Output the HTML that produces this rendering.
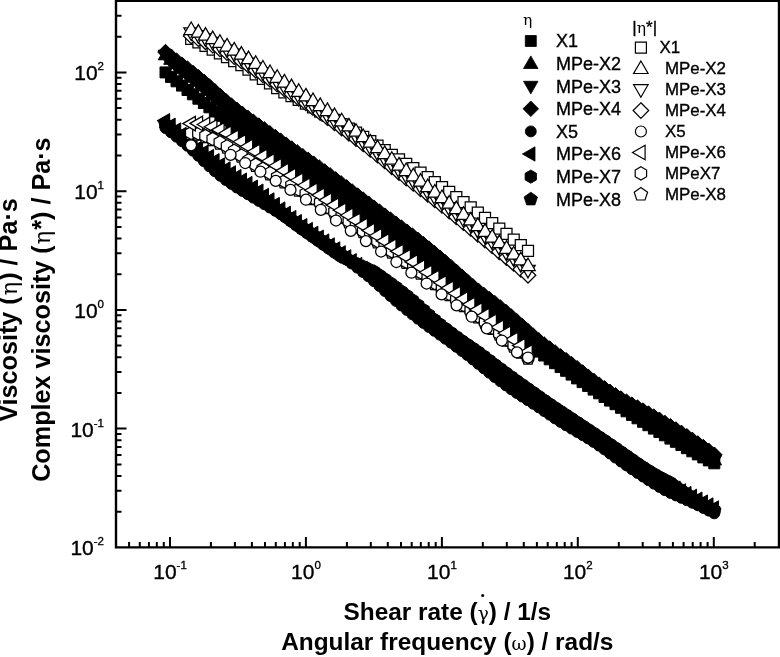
<!DOCTYPE html>
<html><head><meta charset="utf-8"><title>Viscosity plot</title>
<style>html,body{margin:0;padding:0;background:#fff}svg{display:block}</style></head>
<body>
<svg width="780" height="657" viewBox="0 0 780 657">
<rect x="0" y="0" width="780" height="657" fill="#fff"/>
<path d="M160 66.9h11v11h-11zM165.5 71.4h11v11h-11zM171 75.8h11v11h-11zM176.5 80.1h11v11h-11zM182 84.5h11v11h-11zM187.4 88.8h11v11h-11zM192.9 93.2h11v11h-11zM198.4 97.5h11v11h-11zM203.9 101.8h11v11h-11zM209.4 106h11v11h-11zM214.9 110.3h11v11h-11zM220.4 114.5h11v11h-11zM225.9 118.7h11v11h-11zM231.3 123h11v11h-11zM236.8 127.2h11v11h-11zM242.3 131.4h11v11h-11zM247.8 135.6h11v11h-11zM253.3 139.7h11v11h-11zM258.8 143.9h11v11h-11zM264.3 148h11v11h-11zM269.8 152.2h11v11h-11zM275.2 156.3h11v11h-11zM280.7 160.5h11v11h-11zM286.2 164.6h11v11h-11zM291.7 168.7h11v11h-11zM297.2 172.8h11v11h-11zM302.7 176.9h11v11h-11zM308.2 181.1h11v11h-11zM313.7 185.2h11v11h-11zM319.2 189.3h11v11h-11zM324.6 193.3h11v11h-11zM330.1 197.4h11v11h-11zM335.6 201.5h11v11h-11zM341.1 205.6h11v11h-11zM346.6 209.7h11v11h-11zM352.1 213.8h11v11h-11zM357.6 217.8h11v11h-11zM363.1 221.9h11v11h-11zM368.5 226h11v11h-11zM374 230h11v11h-11zM379.5 234.1h11v11h-11zM385 238.2h11v11h-11zM390.5 242.2h11v11h-11zM396 246.3h11v11h-11zM401.5 250.3h11v11h-11zM407 254.4h11v11h-11zM412.4 258.4h11v11h-11zM417.9 262.5h11v11h-11zM423.4 266.5h11v11h-11zM428.9 270.6h11v11h-11zM434.4 274.6h11v11h-11zM439.9 278.6h11v11h-11zM445.4 282.7h11v11h-11zM450.9 286.7h11v11h-11zM456.4 290.7h11v11h-11zM461.8 294.7h11v11h-11zM467.3 298.7h11v11h-11zM472.8 302.7h11v11h-11zM478.3 306.7h11v11h-11zM483.8 310.7h11v11h-11zM489.3 314.6h11v11h-11zM494.8 318.6h11v11h-11zM500.3 322.6h11v11h-11zM505.7 326.5h11v11h-11zM511.2 330.5h11v11h-11zM516.7 334.4h11v11h-11zM522.2 338.3h11v11h-11zM527.7 342.2h11v11h-11zM533.2 346.1h11v11h-11zM538.7 350h11v11h-11zM544.2 353.8h11v11h-11zM549.6 357.7h11v11h-11zM555.1 361.5h11v11h-11zM560.6 365.3h11v11h-11zM566.1 369.1h11v11h-11zM571.6 372.9h11v11h-11zM577.1 376.6h11v11h-11zM582.6 380.4h11v11h-11zM588.1 384.1h11v11h-11zM593.6 387.8h11v11h-11zM599 391.4h11v11h-11zM604.5 395.1h11v11h-11zM610 398.7h11v11h-11zM615.5 402.3h11v11h-11zM621 405.8h11v11h-11zM626.5 409.4h11v11h-11zM632 412.8h11v11h-11zM637.5 416.3h11v11h-11zM642.9 419.7h11v11h-11zM648.4 423.1h11v11h-11zM653.9 426.5h11v11h-11zM659.4 429.8h11v11h-11zM664.9 433.1h11v11h-11zM670.4 436.3h11v11h-11zM675.9 439.5h11v11h-11zM681.4 442.7h11v11h-11zM686.8 445.8h11v11h-11zM692.3 448.9h11v11h-11zM697.8 451.9h11v11h-11zM703.3 454.9h11v11h-11zM708.8 457.8h11v11h-11z" fill="#000" stroke="#000" stroke-width="1"/>
<path d="M165.5 47.2L172.8 59.8L158.2 59.8zM171 51.7L178.2 64.3L163.7 64.3zM176.5 56.1L183.7 68.6L169.2 68.6zM182 60.2L189.2 72.8L174.7 72.8zM187.5 64.4L194.7 77L180.2 77zM192.9 68.7L200.2 81.3L185.7 81.3zM198.4 73.2L205.7 85.8L191.2 85.8zM203.9 77.8L211.2 90.4L196.7 90.4zM209.4 82.6L216.7 95.1L202.2 95.1zM214.9 87.4L222.1 100L207.6 100zM220.4 92.3L227.6 104.8L213.1 104.8zM225.9 97L233.1 109.6L218.6 109.6zM231.4 101.6L238.6 114.1L224.1 114.1zM236.8 105.9L244.1 118.5L229.6 118.5zM242.3 110.1L249.6 122.7L235.1 122.7zM247.8 114.3L255.1 126.8L240.6 126.8zM253.3 118.3L260.6 130.9L246.1 130.9zM258.8 122.4L266 134.9L251.5 134.9zM264.3 126.4L271.5 138.9L257 138.9zM269.8 130.4L277 142.9L262.5 142.9zM275.3 134.4L282.5 147L268 147zM280.7 138.4L288 151L273.5 151zM286.2 142.5L293.5 155L279 155zM291.7 146.5L299 159L284.5 159zM297.2 150.5L304.5 163.1L290 163.1zM302.7 154.5L309.9 167.1L295.4 167.1zM308.2 158.5L315.4 171.1L300.9 171.1zM313.7 162.5L320.9 175.1L306.4 175.1zM319.2 166.6L326.4 179.1L311.9 179.1zM324.7 170.6L331.9 183.2L317.4 183.2zM330.1 174.8L337.4 187.3L322.9 187.3zM335.6 178.9L342.9 191.5L328.4 191.5zM341.1 183.1L348.4 195.6L333.9 195.6zM346.6 187.2L353.9 199.8L339.4 199.8zM352.1 191.4L359.3 204L344.8 204zM357.6 195.6L364.8 208.2L350.3 208.2zM363.1 199.8L370.3 212.4L355.8 212.4zM368.6 204L375.8 216.6L361.3 216.6zM374 208.2L381.3 220.7L366.8 220.7zM379.5 212.3L386.8 224.9L372.3 224.9zM385 216.5L392.3 229L377.8 229zM390.5 220.6L397.8 233.2L383.3 233.2zM396 224.7L403.2 237.3L388.7 237.3zM401.5 228.9L408.7 241.4L394.2 241.4zM407 233L414.2 245.6L399.7 245.6zM412.5 237.2L419.7 249.8L405.2 249.8zM417.9 241.5L425.2 254L410.7 254zM423.4 245.8L430.7 258.3L416.2 258.3zM428.9 250.1L436.2 262.7L421.7 262.7zM434.4 254.6L441.7 267.1L427.2 267.1zM439.9 259.1L447.1 271.6L432.6 271.6zM445.4 263.6L452.6 276.1L438.1 276.1zM450.9 268.1L458.1 280.7L443.6 280.7zM456.4 272.7L463.6 285.3L449.1 285.3zM461.9 277.3L469.1 289.8L454.6 289.8zM467.3 281.8L474.6 294.4L460.1 294.4zM472.8 286.3L480.1 298.8L465.6 298.8zM478.3 290.6L485.6 303.2L471.1 303.2zM483.8 294.9L491.1 307.4L476.6 307.4zM489.3 299L496.5 311.6L482 311.6zM494.8 303.1L502 315.7L487.5 315.7zM500.3 307.3L507.5 319.9L493 319.9zM505.8 311.6L513 324.1L498.5 324.1zM511.2 315.9L518.5 328.5L504 328.5zM516.7 320.4L524 332.9L509.5 332.9zM522.2 324.8L529.5 337.4L515 337.4zM527.7 329.2L535 341.8L520.5 341.8zM533.2 333.6L540.4 346.2L525.9 346.2zM538.7 337.9L545.9 350.5L531.4 350.5zM544.2 342L551.4 354.6L536.9 354.6zM549.7 346.1L556.9 358.6L542.4 358.6zM555.1 350L562.4 362.5L547.9 362.5zM560.6 353.9L567.9 366.4L553.4 366.4zM566.1 357.8L573.4 370.3L558.9 370.3zM571.6 361.7L578.9 374.2L564.4 374.2zM577.1 365.7L584.3 378.2L569.8 378.2zM582.6 369.7L589.8 382.2L575.3 382.2zM588.1 373.6L595.3 386.2L580.8 386.2zM593.6 377.5L600.8 390.1L586.3 390.1zM599.1 381.4L606.3 393.9L591.8 393.9zM604.5 385.1L611.8 397.7L597.3 397.7zM610 388.7L617.3 401.3L602.8 401.3zM615.5 392.3L622.8 404.9L608.3 404.9zM621 395.8L628.3 408.4L613.8 408.4zM626.5 399.3L633.7 411.8L619.2 411.8zM632 402.6L639.2 415.2L624.7 415.2zM637.5 406L644.7 418.5L630.2 418.5zM643 409.3L650.2 421.9L635.7 421.9zM648.4 412.6L655.7 425.2L641.2 425.2zM653.9 416L661.2 428.5L646.7 428.5zM659.4 419.3L666.7 431.9L652.2 431.9zM664.9 422.7L672.2 435.2L657.7 435.2zM670.4 426L677.6 438.6L663.1 438.6zM675.9 429.3L683.1 441.9L668.6 441.9zM681.4 432.6L688.6 445.2L674.1 445.2zM686.9 436L694.1 448.5L679.6 448.5zM692.3 439.3L699.6 451.8L685.1 451.8zM697.8 442.6L705.1 455.1L690.6 455.1zM703.3 445.8L710.6 458.4L696.1 458.4zM708.8 449.1L716.1 461.7L701.6 461.7zM714.3 452.3L721.5 464.9L707 464.9z" fill="#000" stroke="#000" stroke-width="1"/>
<path d="M165.5 62.7L172.8 50.2L158.2 50.2zM171 69.6L178.2 57L163.7 57zM176.5 74.9L183.7 62.4L169.2 62.4zM182 79.6L189.2 67L174.7 67zM187.5 83.8L194.7 71.2L180.2 71.2zM192.9 88.1L200.2 75.5L185.7 75.5zM198.4 92.5L205.7 79.9L191.2 79.9zM203.9 97L211.2 84.5L196.7 84.5zM209.4 101.7L216.7 89.1L202.2 89.1zM214.9 106.4L222.1 93.8L207.6 93.8zM220.4 111.2L227.6 98.6L213.1 98.6zM225.9 115.8L233.1 103.2L218.6 103.2zM231.4 120.3L238.6 107.7L224.1 107.7zM236.8 124.6L244.1 112L229.6 112zM242.3 128.8L249.6 116.2L235.1 116.2zM247.8 132.9L255.1 120.3L240.6 120.3zM253.3 137.4L260.6 124.8L246.1 124.8zM258.8 142.1L266 129.5L251.5 129.5zM264.3 146.8L271.5 134.3L257 134.3zM269.8 151.6L277 139L262.5 139zM275.3 156.4L282.5 143.8L268 143.8zM280.7 161.2L288 148.7L273.5 148.7zM286.2 165.9L293.5 153.3L279 153.3zM291.7 169.9L299 157.3L284.5 157.3zM297.2 173.8L304.5 161.3L290 161.3zM302.7 177.8L309.9 165.3L295.4 165.3zM308.2 181.8L315.4 169.3L300.9 169.3zM313.7 185.8L320.9 173.2L306.4 173.2zM319.2 189.8L326.4 177.2L311.9 177.2zM324.7 193.8L331.9 181.3L317.4 181.3zM330.1 197.8L337.4 185.3L322.9 185.3zM335.6 201.9L342.9 189.3L328.4 189.3zM341.1 205.9L348.4 193.4L333.9 193.4zM346.6 210L353.9 197.4L339.4 197.4zM352.1 214.1L359.3 201.5L344.8 201.5zM357.6 218.1L364.8 205.6L350.3 205.6zM363.1 222.2L370.3 209.7L355.8 209.7zM368.6 226.3L375.8 213.7L361.3 213.7zM374 230.3L381.3 217.8L366.8 217.8zM379.5 234.4L386.8 221.8L372.3 221.8zM385 238.4L392.3 225.9L377.8 225.9zM390.5 242.5L397.8 229.9L383.3 229.9zM396 246.5L403.2 233.9L388.7 233.9zM401.5 250.5L408.7 237.9L394.2 237.9zM407 254.5L414.2 242L399.7 242zM412.5 258.6L419.7 246L405.2 246zM417.9 262.7L425.2 250.1L410.7 250.1zM423.4 266.8L430.7 254.3L416.2 254.3zM428.9 271L436.2 258.4L421.7 258.4zM434.4 275.2L441.7 262.7L427.2 262.7zM439.9 279.5L447.1 266.9L432.6 266.9zM445.4 283.8L452.6 271.2L438.1 271.2zM450.9 288.1L458.1 275.6L443.6 275.6zM456.4 292.5L463.6 279.9L449.1 279.9zM461.9 296.8L469.1 284.2L454.6 284.2zM467.3 301.1L474.6 288.6L460.1 288.6zM472.8 305.4L480.1 292.9L465.6 292.9zM478.3 309.6L485.6 297L471.1 297zM483.8 313.7L491.1 301.1L476.6 301.1zM489.3 317.7L496.5 305.2L482 305.2zM494.8 321.8L502 309.2L487.5 309.2zM500.3 325.8L507.5 313.3L493 313.3zM505.8 330L513 317.4L498.5 317.4zM511.2 334.2L518.5 321.6L504 321.6zM516.7 338.4L524 325.9L509.5 325.9zM522.2 342.7L529.5 330.2L515 330.2zM527.7 347L535 334.4L520.5 334.4zM533.2 351.3L540.4 338.7L525.9 338.7zM538.7 355.4L545.9 342.9L531.4 342.9zM544.2 359.5L551.4 346.9L536.9 346.9zM549.7 363.4L556.9 350.9L542.4 350.9zM555.1 367.3L562.4 354.7L547.9 354.7zM560.6 371.1L567.9 358.6L553.4 358.6zM566.1 374.9L573.4 362.4L558.9 362.4zM571.6 378.8L578.9 366.3L564.4 366.3zM577.1 382.7L584.3 370.2L569.8 370.2zM582.6 386.7L589.8 374.1L575.3 374.1zM588.1 390.6L595.3 378L580.8 378zM593.6 394.4L600.8 381.9L586.3 381.9zM599.1 398.2L606.3 385.6L591.8 385.6zM604.5 401.9L611.8 389.3L597.3 389.3zM610 405.5L617.3 392.9L602.8 392.9zM615.5 409L622.8 396.5L608.3 396.5zM621 412.5L628.3 399.9L613.8 399.9zM626.5 415.9L633.7 403.3L619.2 403.3zM632 419.2L639.2 406.6L624.7 406.6zM637.5 422.4L644.7 409.9L630.2 409.9zM643 425.7L650.2 413.1L635.7 413.1zM648.4 428.9L655.7 416.4L641.2 416.4zM653.9 432.2L661.2 419.7L646.7 419.7zM659.4 435.5L666.7 422.9L652.2 422.9zM664.9 438.8L672.2 426.2L657.7 426.2zM670.4 442L677.6 429.5L663.1 429.5zM675.9 445.3L683.1 432.7L668.6 432.7zM681.4 448.6L688.6 436L674.1 436zM686.9 451.8L694.1 439.3L679.6 439.3zM692.3 455.1L699.6 442.5L685.1 442.5zM697.8 458.4L705.1 445.8L690.6 445.8zM703.3 461.7L710.6 449.1L696.1 449.1zM708.8 465L716.1 452.4L701.6 452.4zM714.3 468.2L721.5 455.7L707 455.7z" fill="#000" stroke="#000" stroke-width="1"/>
<path d="M165.5 44.3L173.3 52.1L165.5 59.9L157.7 52.1zM171 48.8L178.8 56.6L171 64.4L163.2 56.6zM176.5 52.9L184.3 60.7L176.5 68.5L168.7 60.7zM182 56.9L189.8 64.7L182 72.5L174.2 64.7zM187.5 60.9L195.3 68.7L187.5 76.5L179.7 68.7zM192.9 65.1L200.7 72.9L192.9 80.7L185.1 72.9zM198.4 69.5L206.2 77.3L198.4 85.1L190.6 77.3zM203.9 74L211.7 81.8L203.9 89.6L196.1 81.8zM209.4 78.7L217.2 86.5L209.4 94.3L201.6 86.5zM214.9 83.6L222.7 91.4L214.9 99.2L207.1 91.4zM220.4 88.5L228.2 96.3L220.4 104.1L212.6 96.3zM225.9 93.3L233.7 101.1L225.9 108.9L218.1 101.1zM231.4 97.8L239.2 105.6L231.4 113.4L223.6 105.6zM236.8 102L244.6 109.8L236.8 117.6L229 109.8zM242.3 106.1L250.1 113.9L242.3 121.7L234.5 113.9zM247.8 110.1L255.6 117.9L247.8 125.7L240 117.9zM253.3 114L261.1 121.8L253.3 129.6L245.5 121.8zM258.8 117.8L266.6 125.6L258.8 133.4L251 125.6zM264.3 121.6L272.1 129.4L264.3 137.2L256.5 129.4zM269.8 125.5L277.6 133.3L269.8 141.1L262 133.3zM275.3 129.3L283.1 137.1L275.3 144.9L267.5 137.1zM280.7 133.1L288.5 140.9L280.7 148.7L272.9 140.9zM286.2 137L294 144.8L286.2 152.6L278.4 144.8zM291.7 140.8L299.5 148.6L291.7 156.4L283.9 148.6zM297.2 144.6L305 152.4L297.2 160.2L289.4 152.4zM302.7 148.4L310.5 156.2L302.7 164L294.9 156.2zM308.2 152.1L316 159.9L308.2 167.7L300.4 159.9zM313.7 156L321.5 163.8L313.7 171.6L305.9 163.8zM319.2 159.8L327 167.6L319.2 175.4L311.4 167.6zM324.7 163.7L332.5 171.5L324.7 179.3L316.9 171.5zM330.1 167.6L337.9 175.4L330.1 183.2L322.3 175.4zM335.6 171.6L343.4 179.4L335.6 187.2L327.8 179.4zM341.1 175.6L348.9 183.4L341.1 191.2L333.3 183.4zM346.6 179.6L354.4 187.4L346.6 195.2L338.8 187.4zM352.1 183.7L359.9 191.5L352.1 199.3L344.3 191.5zM357.6 187.8L365.4 195.6L357.6 203.4L349.8 195.6zM363.1 191.8L370.9 199.6L363.1 207.4L355.3 199.6zM368.6 195.9L376.4 203.7L368.6 211.5L360.8 203.7zM374 199.9L381.8 207.7L374 215.5L366.2 207.7zM379.5 203.9L387.3 211.7L379.5 219.5L371.7 211.7zM385 207.9L392.8 215.7L385 223.5L377.2 215.7zM390.5 211.9L398.3 219.7L390.5 227.5L382.7 219.7zM396 215.9L403.8 223.7L396 231.5L388.2 223.7zM401.5 219.9L409.3 227.7L401.5 235.5L393.7 227.7zM407 223.9L414.8 231.7L407 239.5L399.2 231.7zM412.5 227.9L420.3 235.7L412.5 243.5L404.7 235.7zM417.9 232.1L425.7 239.9L417.9 247.7L410.1 239.9zM423.4 236.4L431.2 244.2L423.4 252L415.6 244.2zM428.9 240.8L436.7 248.6L428.9 256.4L421.1 248.6zM434.4 245.3L442.2 253.1L434.4 260.9L426.6 253.1zM439.9 249.9L447.7 257.7L439.9 265.5L432.1 257.7zM445.4 254.6L453.2 262.4L445.4 270.2L437.6 262.4zM450.9 259.3L458.7 267.1L450.9 274.9L443.1 267.1zM456.4 264.1L464.2 271.9L456.4 279.7L448.6 271.9zM461.9 269L469.7 276.8L461.9 284.6L454.1 276.8zM467.3 273.8L475.1 281.6L467.3 289.4L459.5 281.6zM472.8 278.5L480.6 286.3L472.8 294.1L465 286.3zM478.3 283L486.1 290.8L478.3 298.6L470.5 290.8zM483.8 287.2L491.6 295L483.8 302.8L476 295zM489.3 291.3L497.1 299.1L489.3 306.9L481.5 299.1zM494.8 295.4L502.6 303.2L494.8 311L487 303.2zM500.3 299.7L508.1 307.5L500.3 315.3L492.5 307.5zM505.8 304.1L513.6 311.9L505.8 319.7L498 311.9zM511.2 308.7L519 316.5L511.2 324.3L503.4 316.5zM516.7 313.4L524.5 321.2L516.7 329L508.9 321.2zM522.2 318.3L530 326.1L522.2 333.9L514.4 326.1zM527.7 323.1L535.5 330.9L527.7 338.7L519.9 330.9zM533.2 327.9L541 335.7L533.2 343.5L525.4 335.7zM538.7 332.5L546.5 340.3L538.7 348.1L530.9 340.3zM544.2 336.8L552 344.6L544.2 352.4L536.4 344.6zM549.7 340.8L557.5 348.6L549.7 356.4L541.9 348.6zM555.1 344.7L562.9 352.5L555.1 360.3L547.3 352.5zM560.6 348.6L568.4 356.4L560.6 364.2L552.8 356.4zM566.1 352.4L573.9 360.2L566.1 368L558.3 360.2zM571.6 356.4L579.4 364.2L571.6 372L563.8 364.2zM577.1 360.5L584.9 368.3L577.1 376.1L569.3 368.3zM582.6 364.7L590.4 372.5L582.6 380.3L574.8 372.5zM588.1 368.9L595.9 376.7L588.1 384.5L580.3 376.7zM593.6 373L601.4 380.8L593.6 388.6L585.8 380.8zM599.1 376.9L606.9 384.7L599.1 392.5L591.3 384.7zM604.5 380.6L612.3 388.4L604.5 396.2L596.7 388.4zM610 384.1L617.8 391.9L610 399.7L602.2 391.9zM615.5 387.5L623.3 395.3L615.5 403.1L607.7 395.3zM621 390.8L628.8 398.6L621 406.4L613.2 398.6zM626.5 393.9L634.3 401.7L626.5 409.5L618.7 401.7zM632 396.9L639.8 404.7L632 412.5L624.2 404.7zM637.5 399.8L645.3 407.6L637.5 415.4L629.7 407.6zM643 402.8L650.8 410.6L643 418.4L635.2 410.6zM648.4 405.8L656.2 413.6L648.4 421.4L640.6 413.6zM653.9 408.8L661.7 416.6L653.9 424.4L646.1 416.6zM659.4 412L667.2 419.8L659.4 427.6L651.6 419.8zM664.9 415.2L672.7 423L664.9 430.8L657.1 423zM670.4 418.4L678.2 426.2L670.4 434L662.6 426.2zM675.9 421.7L683.7 429.5L675.9 437.3L668.1 429.5zM681.4 425.1L689.2 432.9L681.4 440.7L673.6 432.9zM686.9 428.5L694.7 436.3L686.9 444.1L679.1 436.3zM692.3 432.1L700.1 439.9L692.3 447.7L684.5 439.9zM697.8 435.7L705.6 443.5L697.8 451.3L690 443.5zM703.3 439.3L711.1 447.1L703.3 454.9L695.5 447.1zM708.8 443.1L716.6 450.9L708.8 458.7L701 450.9zM714.3 446.9L722.1 454.7L714.3 462.5L706.5 454.7z" fill="#000" stroke="#000" stroke-width="1"/>
<path d="M160 128a5.5 5.5 0 1 0 11.0 0a5.5 5.5 0 1 0 -11.0 0zM165.5 132.3a5.5 5.5 0 1 0 11.0 0a5.5 5.5 0 1 0 -11.0 0zM171 136.7a5.5 5.5 0 1 0 11.0 0a5.5 5.5 0 1 0 -11.0 0zM176.5 141.2a5.5 5.5 0 1 0 11.0 0a5.5 5.5 0 1 0 -11.0 0zM182 145.8a5.5 5.5 0 1 0 11.0 0a5.5 5.5 0 1 0 -11.0 0zM187.4 150.7a5.5 5.5 0 1 0 11.0 0a5.5 5.5 0 1 0 -11.0 0zM192.9 155.8a5.5 5.5 0 1 0 11.0 0a5.5 5.5 0 1 0 -11.0 0zM198.4 161.1a5.5 5.5 0 1 0 11.0 0a5.5 5.5 0 1 0 -11.0 0zM203.9 166.3a5.5 5.5 0 1 0 11.0 0a5.5 5.5 0 1 0 -11.0 0zM209.4 171.2a5.5 5.5 0 1 0 11.0 0a5.5 5.5 0 1 0 -11.0 0zM214.9 175.8a5.5 5.5 0 1 0 11.0 0a5.5 5.5 0 1 0 -11.0 0zM220.4 180a5.5 5.5 0 1 0 11.0 0a5.5 5.5 0 1 0 -11.0 0zM225.9 183.9a5.5 5.5 0 1 0 11.0 0a5.5 5.5 0 1 0 -11.0 0zM231.3 187.5a5.5 5.5 0 1 0 11.0 0a5.5 5.5 0 1 0 -11.0 0zM236.8 190.9a5.5 5.5 0 1 0 11.0 0a5.5 5.5 0 1 0 -11.0 0zM242.3 194.2a5.5 5.5 0 1 0 11.0 0a5.5 5.5 0 1 0 -11.0 0zM247.8 197.6a5.5 5.5 0 1 0 11.0 0a5.5 5.5 0 1 0 -11.0 0zM253.3 200.9a5.5 5.5 0 1 0 11.0 0a5.5 5.5 0 1 0 -11.0 0zM258.8 204.2a5.5 5.5 0 1 0 11.0 0a5.5 5.5 0 1 0 -11.0 0zM264.3 207.5a5.5 5.5 0 1 0 11.0 0a5.5 5.5 0 1 0 -11.0 0zM269.8 210.8a5.5 5.5 0 1 0 11.0 0a5.5 5.5 0 1 0 -11.0 0zM275.2 214.3a5.5 5.5 0 1 0 11.0 0a5.5 5.5 0 1 0 -11.0 0zM280.7 217.9a5.5 5.5 0 1 0 11.0 0a5.5 5.5 0 1 0 -11.0 0zM286.2 221.6a5.5 5.5 0 1 0 11.0 0a5.5 5.5 0 1 0 -11.0 0zM291.7 225.4a5.5 5.5 0 1 0 11.0 0a5.5 5.5 0 1 0 -11.0 0zM297.2 229.2a5.5 5.5 0 1 0 11.0 0a5.5 5.5 0 1 0 -11.0 0zM302.7 232.9a5.5 5.5 0 1 0 11.0 0a5.5 5.5 0 1 0 -11.0 0zM308.2 236.6a5.5 5.5 0 1 0 11.0 0a5.5 5.5 0 1 0 -11.0 0zM313.7 240.3a5.5 5.5 0 1 0 11.0 0a5.5 5.5 0 1 0 -11.0 0zM319.2 244a5.5 5.5 0 1 0 11.0 0a5.5 5.5 0 1 0 -11.0 0zM324.6 247.8a5.5 5.5 0 1 0 11.0 0a5.5 5.5 0 1 0 -11.0 0zM330.1 251.6a5.5 5.5 0 1 0 11.0 0a5.5 5.5 0 1 0 -11.0 0zM335.6 255.5a5.5 5.5 0 1 0 11.0 0a5.5 5.5 0 1 0 -11.0 0zM341.1 259.5a5.5 5.5 0 1 0 11.0 0a5.5 5.5 0 1 0 -11.0 0zM346.6 263.6a5.5 5.5 0 1 0 11.0 0a5.5 5.5 0 1 0 -11.0 0zM352.1 267.7a5.5 5.5 0 1 0 11.0 0a5.5 5.5 0 1 0 -11.0 0zM357.6 272a5.5 5.5 0 1 0 11.0 0a5.5 5.5 0 1 0 -11.0 0zM363.1 276.4a5.5 5.5 0 1 0 11.0 0a5.5 5.5 0 1 0 -11.0 0zM368.5 281.1a5.5 5.5 0 1 0 11.0 0a5.5 5.5 0 1 0 -11.0 0zM374 286a5.5 5.5 0 1 0 11.0 0a5.5 5.5 0 1 0 -11.0 0zM379.5 291a5.5 5.5 0 1 0 11.0 0a5.5 5.5 0 1 0 -11.0 0zM385 296a5.5 5.5 0 1 0 11.0 0a5.5 5.5 0 1 0 -11.0 0zM390.5 300.9a5.5 5.5 0 1 0 11.0 0a5.5 5.5 0 1 0 -11.0 0zM396 305.5a5.5 5.5 0 1 0 11.0 0a5.5 5.5 0 1 0 -11.0 0zM401.5 310a5.5 5.5 0 1 0 11.0 0a5.5 5.5 0 1 0 -11.0 0zM407 314.4a5.5 5.5 0 1 0 11.0 0a5.5 5.5 0 1 0 -11.0 0zM412.4 318.7a5.5 5.5 0 1 0 11.0 0a5.5 5.5 0 1 0 -11.0 0zM417.9 322.9a5.5 5.5 0 1 0 11.0 0a5.5 5.5 0 1 0 -11.0 0zM423.4 326.9a5.5 5.5 0 1 0 11.0 0a5.5 5.5 0 1 0 -11.0 0zM428.9 330.8a5.5 5.5 0 1 0 11.0 0a5.5 5.5 0 1 0 -11.0 0zM434.4 334.7a5.5 5.5 0 1 0 11.0 0a5.5 5.5 0 1 0 -11.0 0zM439.9 338.7a5.5 5.5 0 1 0 11.0 0a5.5 5.5 0 1 0 -11.0 0zM445.4 342.7a5.5 5.5 0 1 0 11.0 0a5.5 5.5 0 1 0 -11.0 0zM450.9 346.8a5.5 5.5 0 1 0 11.0 0a5.5 5.5 0 1 0 -11.0 0zM456.4 350.9a5.5 5.5 0 1 0 11.0 0a5.5 5.5 0 1 0 -11.0 0zM461.8 355a5.5 5.5 0 1 0 11.0 0a5.5 5.5 0 1 0 -11.0 0zM467.3 359.4a5.5 5.5 0 1 0 11.0 0a5.5 5.5 0 1 0 -11.0 0zM472.8 363.8a5.5 5.5 0 1 0 11.0 0a5.5 5.5 0 1 0 -11.0 0zM478.3 368.3a5.5 5.5 0 1 0 11.0 0a5.5 5.5 0 1 0 -11.0 0zM483.8 372.7a5.5 5.5 0 1 0 11.0 0a5.5 5.5 0 1 0 -11.0 0zM489.3 377a5.5 5.5 0 1 0 11.0 0a5.5 5.5 0 1 0 -11.0 0zM494.8 381.2a5.5 5.5 0 1 0 11.0 0a5.5 5.5 0 1 0 -11.0 0zM500.3 385.3a5.5 5.5 0 1 0 11.0 0a5.5 5.5 0 1 0 -11.0 0zM505.7 389.2a5.5 5.5 0 1 0 11.0 0a5.5 5.5 0 1 0 -11.0 0zM511.2 392.9a5.5 5.5 0 1 0 11.0 0a5.5 5.5 0 1 0 -11.0 0zM516.7 396.5a5.5 5.5 0 1 0 11.0 0a5.5 5.5 0 1 0 -11.0 0zM522.2 400.1a5.5 5.5 0 1 0 11.0 0a5.5 5.5 0 1 0 -11.0 0zM527.7 403.7a5.5 5.5 0 1 0 11.0 0a5.5 5.5 0 1 0 -11.0 0zM533.2 407.3a5.5 5.5 0 1 0 11.0 0a5.5 5.5 0 1 0 -11.0 0zM538.7 411a5.5 5.5 0 1 0 11.0 0a5.5 5.5 0 1 0 -11.0 0zM544.2 414.7a5.5 5.5 0 1 0 11.0 0a5.5 5.5 0 1 0 -11.0 0zM549.6 418.4a5.5 5.5 0 1 0 11.0 0a5.5 5.5 0 1 0 -11.0 0zM555.1 421.9a5.5 5.5 0 1 0 11.0 0a5.5 5.5 0 1 0 -11.0 0zM560.6 425.3a5.5 5.5 0 1 0 11.0 0a5.5 5.5 0 1 0 -11.0 0zM566.1 428.6a5.5 5.5 0 1 0 11.0 0a5.5 5.5 0 1 0 -11.0 0zM571.6 431.9a5.5 5.5 0 1 0 11.0 0a5.5 5.5 0 1 0 -11.0 0zM577.1 435.1a5.5 5.5 0 1 0 11.0 0a5.5 5.5 0 1 0 -11.0 0zM582.6 438.4a5.5 5.5 0 1 0 11.0 0a5.5 5.5 0 1 0 -11.0 0zM588.1 441.9a5.5 5.5 0 1 0 11.0 0a5.5 5.5 0 1 0 -11.0 0zM593.6 445.6a5.5 5.5 0 1 0 11.0 0a5.5 5.5 0 1 0 -11.0 0zM599 449.4a5.5 5.5 0 1 0 11.0 0a5.5 5.5 0 1 0 -11.0 0zM604.5 453.5a5.5 5.5 0 1 0 11.0 0a5.5 5.5 0 1 0 -11.0 0zM610 457.5a5.5 5.5 0 1 0 11.0 0a5.5 5.5 0 1 0 -11.0 0zM615.5 461.5a5.5 5.5 0 1 0 11.0 0a5.5 5.5 0 1 0 -11.0 0zM621 465.4a5.5 5.5 0 1 0 11.0 0a5.5 5.5 0 1 0 -11.0 0zM626.5 469.2a5.5 5.5 0 1 0 11.0 0a5.5 5.5 0 1 0 -11.0 0zM632 472.9a5.5 5.5 0 1 0 11.0 0a5.5 5.5 0 1 0 -11.0 0zM637.5 476.5a5.5 5.5 0 1 0 11.0 0a5.5 5.5 0 1 0 -11.0 0zM642.9 480.1a5.5 5.5 0 1 0 11.0 0a5.5 5.5 0 1 0 -11.0 0zM648.4 483.6a5.5 5.5 0 1 0 11.0 0a5.5 5.5 0 1 0 -11.0 0zM653.9 486.9a5.5 5.5 0 1 0 11.0 0a5.5 5.5 0 1 0 -11.0 0zM659.4 490.1a5.5 5.5 0 1 0 11.0 0a5.5 5.5 0 1 0 -11.0 0zM664.9 492.9a5.5 5.5 0 1 0 11.0 0a5.5 5.5 0 1 0 -11.0 0zM670.4 495.4a5.5 5.5 0 1 0 11.0 0a5.5 5.5 0 1 0 -11.0 0zM675.9 497.8a5.5 5.5 0 1 0 11.0 0a5.5 5.5 0 1 0 -11.0 0zM681.4 500.2a5.5 5.5 0 1 0 11.0 0a5.5 5.5 0 1 0 -11.0 0zM686.8 502.7a5.5 5.5 0 1 0 11.0 0a5.5 5.5 0 1 0 -11.0 0zM692.3 505.2a5.5 5.5 0 1 0 11.0 0a5.5 5.5 0 1 0 -11.0 0zM697.8 507.9a5.5 5.5 0 1 0 11.0 0a5.5 5.5 0 1 0 -11.0 0zM703.3 510.6a5.5 5.5 0 1 0 11.0 0a5.5 5.5 0 1 0 -11.0 0zM708.8 513.3a5.5 5.5 0 1 0 11.0 0a5.5 5.5 0 1 0 -11.0 0z" fill="#000" stroke="#000" stroke-width="1"/>
<path d="M165.5 117.3L172.2 122.2L169.6 130L161.4 130L158.8 122.2zM171 121.8L177.6 126.7L175.1 134.5L166.9 134.5L164.3 126.7zM176.5 126.3L183.1 131.2L180.6 139L172.4 139L169.8 131.2zM182 130.9L188.6 135.7L186.1 143.5L177.8 143.5L175.3 135.7zM187.5 135.5L194.1 140.3L191.6 148.1L183.3 148.1L180.8 140.3zM192.9 140.1L199.6 145L197.1 152.8L188.8 152.8L186.3 145zM198.4 144.9L205.1 149.7L202.5 157.6L194.3 157.6L191.8 149.7zM203.9 149.7L210.6 154.5L208 162.4L199.8 162.4L197.3 154.5zM209.4 154.4L216.1 159.3L213.5 167.1L205.3 167.1L202.7 159.3zM214.9 159L221.5 163.9L219 171.7L210.8 171.7L208.2 163.9zM220.4 163.4L227 168.2L224.5 176.1L216.3 176.1L213.7 168.2zM225.9 167.6L232.5 172.4L230 180.2L221.8 180.2L219.2 172.4zM231.4 171.5L238 176.3L235.5 184.1L227.2 184.1L224.7 176.3zM236.8 175.1L243.5 179.9L241 187.8L232.7 187.8L230.2 179.9zM242.3 178.5L249 183.4L246.4 191.2L238.2 191.2L235.7 183.4zM247.8 181.9L254.5 186.8L251.9 194.6L243.7 194.6L241.2 186.8zM253.3 185.4L260 190.3L257.4 198.1L249.2 198.1L246.7 190.3zM258.8 189.1L265.5 193.9L262.9 201.7L254.7 201.7L252.1 193.9zM264.3 192.9L270.9 197.7L268.4 205.5L260.2 205.5L257.6 197.7zM269.8 196.8L276.4 201.6L273.9 209.4L265.7 209.4L263.1 201.6zM275.3 200.7L281.9 205.5L279.4 213.4L271.1 213.4L268.6 205.5zM280.7 204.7L287.4 209.5L284.9 217.4L276.6 217.4L274.1 209.5zM286.2 208.7L292.9 213.5L290.4 221.3L282.1 221.3L279.6 213.5zM291.7 212.6L298.4 217.5L295.8 225.3L287.6 225.3L285.1 217.5zM297.2 216.6L303.9 221.4L301.3 229.2L293.1 229.2L290.6 221.4zM302.7 220.4L309.4 225.3L306.8 233.1L298.6 233.1L296 225.3zM308.2 224.3L314.8 229.1L312.3 236.9L304.1 236.9L301.5 229.1zM313.7 228.1L320.3 232.9L317.8 240.7L309.6 240.7L307 232.9zM319.2 231.8L325.8 236.7L323.3 244.5L315 244.5L312.5 236.7zM324.7 235.6L331.3 240.4L328.8 248.3L320.5 248.3L318 240.4zM330.1 239.4L336.8 244.3L334.3 252.1L326 252.1L323.5 244.3zM335.6 243.3L342.3 248.2L339.7 256L331.5 256L329 248.2zM341.1 247.2L347.8 252.1L345.2 259.9L337 259.9L334.5 252.1zM346.6 251.2L353.3 256L350.7 263.9L342.5 263.9L339.9 256zM352.1 255.2L358.7 260L356.2 267.8L348 267.8L345.4 260zM357.6 259.2L364.2 264L361.7 271.8L353.5 271.8L350.9 264zM363.1 263.2L369.7 268.1L367.2 275.9L359 275.9L356.4 268.1zM368.6 267.3L375.2 272.2L372.7 280L364.4 280L361.9 272.2zM374 271.6L380.7 276.5L378.2 284.3L369.9 284.3L367.4 276.5zM379.5 276.1L386.2 280.9L383.6 288.7L375.4 288.7L372.9 280.9zM385 280.5L391.7 285.4L389.1 293.2L380.9 293.2L378.4 285.4zM390.5 285L397.2 289.9L394.6 297.7L386.4 297.7L383.9 289.9zM396 289.5L402.7 294.3L400.1 302.2L391.9 302.2L389.3 294.3zM401.5 293.9L408.1 298.7L405.6 306.6L397.4 306.6L394.8 298.7zM407 298.3L413.6 303.1L411.1 310.9L402.9 310.9L400.3 303.1zM412.5 302.7L419.1 307.5L416.6 315.3L408.3 315.3L405.8 307.5zM417.9 307.1L424.6 311.9L422.1 319.7L413.8 319.7L411.3 311.9zM423.4 311.5L430.1 316.3L427.6 324.1L419.3 324.1L416.8 316.3zM428.9 315.8L435.6 320.6L433 328.4L424.8 328.4L422.3 320.6zM434.4 320L441.1 324.8L438.5 332.6L430.3 332.6L427.8 324.8zM439.9 324L446.6 328.9L444 336.7L435.8 336.7L433.2 328.9zM445.4 328L452 332.9L449.5 340.7L441.3 340.7L438.7 332.9zM450.9 332.1L457.5 336.9L455 344.8L446.8 344.8L444.2 336.9zM456.4 336.2L463 341L460.5 348.8L452.2 348.8L449.7 341zM461.9 340.2L468.5 345.1L466 352.9L457.7 352.9L455.2 345.1zM467.3 344.2L474 349.1L471.5 356.9L463.2 356.9L460.7 349.1zM472.8 348.2L479.5 353.1L476.9 360.9L468.7 360.9L466.2 353.1zM478.3 352.4L485 357.2L482.4 365L474.2 365L471.7 357.2zM483.8 356.6L490.5 361.5L487.9 369.3L479.7 369.3L477.1 361.5zM489.3 361L495.9 365.8L493.4 373.6L485.2 373.6L482.6 365.8zM494.8 365.2L501.4 370L498.9 377.9L490.7 377.9L488.1 370zM500.3 369.4L506.9 374.2L504.4 382L496.2 382L493.6 374.2zM505.8 373.5L512.4 378.3L509.9 386.1L501.6 386.1L499.1 378.3zM511.2 377.4L517.9 382.3L515.4 390.1L507.1 390.1L504.6 382.3zM516.7 381.3L523.4 386.1L520.8 393.9L512.6 393.9L510.1 386.1zM522.2 385L528.9 389.8L526.3 397.7L518.1 397.7L515.6 389.8zM527.7 388.8L534.4 393.6L531.8 401.4L523.6 401.4L521.1 393.6zM533.2 392.5L539.9 397.3L537.3 405.2L529.1 405.2L526.5 397.3zM538.7 396.3L545.3 401.1L542.8 408.9L534.6 408.9L532 401.1zM544.2 400.1L550.8 404.9L548.3 412.7L540.1 412.7L537.5 404.9zM549.7 403.8L556.3 408.6L553.8 416.5L545.5 416.5L543 408.6zM555.1 407.5L561.8 412.3L559.3 420.1L551 420.1L548.5 412.3zM560.6 411L567.3 415.9L564.8 423.7L556.5 423.7L554 415.9zM566.1 414.6L572.8 419.4L570.2 427.2L562 427.2L559.5 419.4zM571.6 418L578.3 422.9L575.7 430.7L567.5 430.7L565 422.9zM577.1 421.5L583.8 426.3L581.2 434.1L573 434.1L570.4 426.3zM582.6 424.9L589.2 429.8L586.7 437.6L578.5 437.6L575.9 429.8zM588.1 428.4L594.7 433.2L592.2 441.1L584 441.1L581.4 433.2zM593.6 432L600.2 436.8L597.7 444.6L589.4 444.6L586.9 436.8zM599.1 435.6L605.7 440.5L603.2 448.3L594.9 448.3L592.4 440.5zM604.5 439.4L611.2 444.2L608.7 452.1L600.4 452.1L597.9 444.2zM610 443.3L616.7 448.1L614.1 455.9L605.9 455.9L603.4 448.1zM615.5 447.2L622.2 452L619.6 459.9L611.4 459.9L608.9 452zM621 451.1L627.7 455.9L625.1 463.8L616.9 463.8L614.3 455.9zM626.5 455L633.1 459.8L630.6 467.6L622.4 467.6L619.8 459.8zM632 458.8L638.6 463.6L636.1 471.5L627.9 471.5L625.3 463.6zM637.5 462.5L644.1 467.4L641.6 475.2L633.4 475.2L630.8 467.4zM643 466.2L649.6 471L647.1 478.9L638.8 478.9L636.3 471zM648.4 469.7L655.1 474.6L652.6 482.4L644.3 482.4L641.8 474.6zM653.9 473.1L660.6 478L658 485.8L649.8 485.8L647.3 478zM659.4 476.4L666.1 481.2L663.5 489L655.3 489L652.8 481.2zM664.9 479.4L671.6 484.2L669 492L660.8 492L658.3 484.2zM670.4 482.2L677.1 487L674.5 494.8L666.3 494.8L663.7 487zM675.9 484.8L682.5 489.6L680 497.5L671.8 497.5L669.2 489.6zM681.4 487.4L688 492.2L685.5 500L677.3 500L674.7 492.2zM686.9 489.9L693.5 494.8L691 502.6L682.7 502.6L680.2 494.8zM692.3 492.5L699 497.4L696.5 505.2L688.2 505.2L685.7 497.4zM697.8 495.2L704.5 500.1L702 507.9L693.7 507.9L691.2 500.1zM703.3 498L710 502.8L707.4 510.7L699.2 510.7L696.7 502.8zM708.8 500.8L715.5 505.6L712.9 513.5L704.7 513.5L702.2 505.6zM714.3 503.7L721 508.5L718.4 516.3L710.2 516.3L707.6 508.5z" fill="#000" stroke="#000" stroke-width="1"/>
<path d="M165.5 118.1L171.2 121.4L171.2 128L165.5 131.3L159.8 128L159.8 121.4zM171 122.8L176.7 126.1L176.7 132.7L171 136L165.3 132.7L165.3 126.1zM176.5 127.4L182.2 130.7L182.2 137.3L176.5 140.6L170.8 137.3L170.8 130.7zM182 132L187.7 135.3L187.7 141.9L182 145.2L176.2 141.9L176.2 135.3zM187.5 136.5L193.2 139.8L193.2 146.4L187.5 149.7L181.7 146.4L181.7 139.8zM192.9 141L198.7 144.3L198.7 150.9L192.9 154.2L187.2 150.9L187.2 144.3zM198.4 145.4L204.1 148.7L204.1 155.3L198.4 158.6L192.7 155.3L192.7 148.7zM203.9 149.7L209.6 153L209.6 159.6L203.9 162.9L198.2 159.6L198.2 153zM209.4 154L215.1 157.3L215.1 163.9L209.4 167.2L203.7 163.9L203.7 157.3zM214.9 158.3L220.6 161.6L220.6 168.2L214.9 171.5L209.2 168.2L209.2 161.6zM220.4 162.4L226.1 165.7L226.1 172.3L220.4 175.6L214.7 172.3L214.7 165.7zM225.9 166.5L231.6 169.8L231.6 176.4L225.9 179.7L220.2 176.4L220.2 169.8zM231.4 170.4L237.1 173.7L237.1 180.3L231.4 183.6L225.6 180.3L225.6 173.7zM236.8 174.1L242.6 177.4L242.6 184L236.8 187.3L231.1 184L231.1 177.4zM242.3 177.6L248 180.9L248 187.5L242.3 190.8L236.6 187.5L236.6 180.9zM247.8 181.1L253.5 184.4L253.5 191L247.8 194.3L242.1 191L242.1 184.4zM253.3 184.7L259 188L259 194.6L253.3 197.9L247.6 194.6L247.6 188zM258.8 188.6L264.5 191.9L264.5 198.5L258.8 201.8L253.1 198.5L253.1 191.9zM264.3 192.9L270 196.2L270 202.8L264.3 206.1L258.6 202.8L258.6 196.2zM269.8 197.4L275.5 200.7L275.5 207.3L269.8 210.6L264.1 207.3L264.1 200.7zM275.3 202L281 205.3L281 211.9L275.3 215.2L269.5 211.9L269.5 205.3zM280.7 206.5L286.5 209.8L286.5 216.4L280.7 219.7L275 216.4L275 209.8zM286.2 210.8L292 214.1L292 220.7L286.2 224L280.5 220.7L280.5 214.1zM291.7 215L297.4 218.3L297.4 224.9L291.7 228.2L286 224.9L286 218.3zM297.2 219.1L302.9 222.4L302.9 229L297.2 232.3L291.5 229L291.5 222.4zM302.7 223.1L308.4 226.4L308.4 233L302.7 236.3L297 233L297 226.4zM308.2 227L313.9 230.3L313.9 236.9L308.2 240.2L302.5 236.9L302.5 230.3zM313.7 230.9L319.4 234.2L319.4 240.8L313.7 244.1L308 240.8L308 234.2zM319.2 234.7L324.9 238L324.9 244.6L319.2 247.9L313.4 244.6L313.4 238zM324.7 238.6L330.4 241.9L330.4 248.5L324.7 251.8L318.9 248.5L318.9 241.9zM330.1 242.5L335.9 245.8L335.9 252.4L330.1 255.7L324.4 252.4L324.4 245.8zM335.6 246.4L341.3 249.7L341.3 256.3L335.6 259.6L329.9 256.3L329.9 249.7zM341.1 250.1L346.8 253.4L346.8 260L341.1 263.3L335.4 260L335.4 253.4zM346.6 252.6L352.3 255.9L352.3 262.5L346.6 265.8L340.9 262.5L340.9 255.9zM352.1 255.1L357.8 258.4L357.8 265L352.1 268.3L346.4 265L346.4 258.4zM357.6 257.5L363.3 260.8L363.3 267.4L357.6 270.7L351.9 267.4L351.9 260.8zM363.1 259.9L368.8 263.2L368.8 269.8L363.1 273.1L357.4 269.8L357.4 263.2zM368.6 262.4L374.3 265.7L374.3 272.3L368.6 275.6L362.8 272.3L362.8 265.7zM374 264.8L379.8 268.1L379.8 274.7L374 278L368.3 274.7L368.3 268.1zM379.5 268.5L385.2 271.8L385.2 278.4L379.5 281.7L373.8 278.4L373.8 271.8zM385 272.4L390.7 275.7L390.7 282.3L385 285.6L379.3 282.3L379.3 275.7zM390.5 276.4L396.2 279.7L396.2 286.3L390.5 289.6L384.8 286.3L384.8 279.7zM396 280.4L401.7 283.7L401.7 290.3L396 293.6L390.3 290.3L390.3 283.7zM401.5 284.7L407.2 288L407.2 294.6L401.5 297.9L395.8 294.6L395.8 288zM407 289L412.7 292.3L412.7 298.9L407 302.2L401.3 298.9L401.3 292.3zM412.5 293.5L418.2 296.8L418.2 303.4L412.5 306.7L406.7 303.4L406.7 296.8zM417.9 298.3L423.7 301.6L423.7 308.2L417.9 311.5L412.2 308.2L412.2 301.6zM423.4 303.2L429.2 306.5L429.2 313.1L423.4 316.4L417.7 313.1L417.7 306.5zM428.9 308.1L434.6 311.4L434.6 318L428.9 321.3L423.2 318L423.2 311.4zM434.4 312.9L440.1 316.2L440.1 322.8L434.4 326.1L428.7 322.8L428.7 316.2zM439.9 317.5L445.6 320.8L445.6 327.4L439.9 330.7L434.2 327.4L434.2 320.8zM445.4 321.8L451.1 325.1L451.1 331.7L445.4 335L439.7 331.7L439.7 325.1zM450.9 325.9L456.6 329.2L456.6 335.8L450.9 339.1L445.2 335.8L445.2 329.2zM456.4 330L462.1 333.3L462.1 339.9L456.4 343.2L450.6 339.9L450.6 333.3zM461.9 334L467.6 337.3L467.6 343.9L461.9 347.2L456.1 343.9L456.1 337.3zM467.3 337.8L473.1 341.1L473.1 347.7L467.3 351L461.6 347.7L461.6 341.1zM472.8 341.5L478.5 344.8L478.5 351.4L472.8 354.7L467.1 351.4L467.1 344.8zM478.3 345.3L484 348.6L484 355.2L478.3 358.5L472.6 355.2L472.6 348.6zM483.8 349.4L489.5 352.7L489.5 359.3L483.8 362.6L478.1 359.3L478.1 352.7zM489.3 353.6L495 356.9L495 363.5L489.3 366.8L483.6 363.5L483.6 356.9zM494.8 357.8L500.5 361.1L500.5 367.7L494.8 371L489.1 367.7L489.1 361.1zM500.3 361.9L506 365.2L506 371.8L500.3 375.1L494.6 371.8L494.6 365.2zM505.8 366L511.5 369.3L511.5 375.9L505.8 379.2L500 375.9L500 369.3zM511.2 370L517 373.3L517 379.9L511.2 383.2L505.5 379.9L505.5 373.3zM516.7 374L522.4 377.3L522.4 383.9L516.7 387.2L511 383.9L511 377.3zM522.2 377.9L527.9 381.2L527.9 387.8L522.2 391.1L516.5 387.8L516.5 381.2zM527.7 381.8L533.4 385.1L533.4 391.7L527.7 395L522 391.7L522 385.1zM533.2 385.7L538.9 389L538.9 395.6L533.2 398.9L527.5 395.6L527.5 389zM538.7 389.6L544.4 392.9L544.4 399.5L538.7 402.8L533 399.5L533 392.9zM544.2 393.5L549.9 396.8L549.9 403.4L544.2 406.7L538.5 403.4L538.5 396.8zM549.7 397.3L555.4 400.6L555.4 407.2L549.7 410.5L543.9 407.2L543.9 400.6zM555.1 401L560.9 404.3L560.9 410.9L555.1 414.2L549.4 410.9L549.4 404.3zM560.6 404.6L566.4 407.9L566.4 414.5L560.6 417.8L554.9 414.5L554.9 407.9zM566.1 408.2L571.8 411.5L571.8 418.1L566.1 421.4L560.4 418.1L560.4 411.5zM571.6 411.8L577.3 415.1L577.3 421.7L571.6 425L565.9 421.7L565.9 415.1zM577.1 415.5L582.8 418.8L582.8 425.4L577.1 428.7L571.4 425.4L571.4 418.8zM582.6 419.1L588.3 422.4L588.3 429L582.6 432.3L576.9 429L576.9 422.4zM588.1 422.8L593.8 426.1L593.8 432.7L588.1 436L582.4 432.7L582.4 426.1zM593.6 426.4L599.3 429.7L599.3 436.3L593.6 439.6L587.8 436.3L587.8 429.7zM599.1 430.1L604.8 433.4L604.8 440L599.1 443.3L593.3 440L593.3 433.4zM604.5 433.7L610.3 437L610.3 443.6L604.5 446.9L598.8 443.6L598.8 437zM610 437.5L615.7 440.8L615.7 447.4L610 450.7L604.3 447.4L604.3 440.8zM615.5 441.2L621.2 444.5L621.2 451.1L615.5 454.4L609.8 451.1L609.8 444.5zM621 445.1L626.7 448.4L626.7 455L621 458.3L615.3 455L615.3 448.4zM626.5 448.9L632.2 452.2L632.2 458.8L626.5 462.1L620.8 458.8L620.8 452.2zM632 452.8L637.7 456.1L637.7 462.7L632 466L626.3 462.7L626.3 456.1zM637.5 456.6L643.2 459.9L643.2 466.5L637.5 469.8L631.8 466.5L631.8 459.9zM643 460.3L648.7 463.6L648.7 470.2L643 473.5L637.2 470.2L637.2 463.6zM648.4 463.8L654.2 467.1L654.2 473.7L648.4 477L642.7 473.7L642.7 467.1zM653.9 467.1L659.6 470.4L659.6 477L653.9 480.3L648.2 477L648.2 470.4zM659.4 470.2L665.1 473.5L665.1 480.1L659.4 483.4L653.7 480.1L653.7 473.5zM664.9 473.1L670.6 476.4L670.6 483L664.9 486.3L659.2 483L659.2 476.4zM670.4 475.9L676.1 479.2L676.1 485.8L670.4 489.1L664.7 485.8L664.7 479.2zM675.9 479.8L681.6 483.1L681.6 489.7L675.9 493L670.2 489.7L670.2 483.1zM681.4 483.6L687.1 486.9L687.1 493.5L681.4 496.8L675.7 493.5L675.7 486.9zM686.9 487.4L692.6 490.7L692.6 497.3L686.9 500.6L681.1 497.3L681.1 490.7zM692.3 491.3L698.1 494.6L698.1 501.2L692.3 504.5L686.6 501.2L686.6 494.6zM697.8 494.6L703.6 497.9L703.6 504.5L697.8 507.8L692.1 504.5L692.1 497.9zM703.3 497.5L709 500.8L709 507.4L703.3 510.7L697.6 507.4L697.6 500.8zM708.8 500.5L714.5 503.8L714.5 510.4L708.8 513.7L703.1 510.4L703.1 503.8zM714.3 503.4L720 506.7L720 513.3L714.3 516.6L708.6 513.3L708.6 506.7z" fill="#000" stroke="#000" stroke-width="1"/>
<path d="M157.1 120.7L169.7 113.5L169.7 128zM162.6 125.4L175.2 118.1L175.2 132.6zM168.1 130L180.7 122.8L180.7 137.3zM173.6 134.6L186.2 127.3L186.2 141.8zM179.1 139.1L191.6 131.9L191.6 146.4zM184.6 143.6L197.1 136.3L197.1 150.8zM190.1 148L202.6 140.7L202.6 155.2zM195.5 152.3L208.1 145.1L208.1 159.6zM201 156.6L213.6 149.4L213.6 163.9zM206.5 160.9L219.1 153.6L219.1 168.1zM212 165L224.6 157.8L224.6 172.3zM217.5 169.1L230.1 161.8L230.1 176.3zM223 173L235.5 165.7L235.5 180.2zM228.5 176.7L241 169.4L241 183.9zM234 180.2L246.5 173L246.5 187.5zM239.4 183.7L252 176.4L252 190.9zM244.9 187.3L257.5 180L257.5 194.5zM250.4 191.2L263 184L263 198.5zM255.9 195.5L268.5 188.3L268.5 202.8zM261.4 200L274 192.8L274 207.3zM266.9 204.6L279.4 197.4L279.4 211.9zM272.4 209.1L284.9 201.9L284.9 216.4zM277.9 213.4L290.4 206.2L290.4 220.7zM283.4 217.6L295.9 210.4L295.9 224.9zM288.8 221.7L301.4 214.5L301.4 229zM294.3 225.7L306.9 218.5L306.9 233zM299.8 229.6L312.4 222.4L312.4 236.9zM305.3 233.5L317.9 226.2L317.9 240.7zM310.8 237.3L323.4 230.1L323.4 244.6zM316.3 241.2L328.8 233.9L328.8 248.4zM321.8 245.1L334.3 237.8L334.3 252.3zM327.3 249L339.8 241.8L339.8 256.3zM332.7 253L345.3 245.7L345.3 260.2zM338.2 256.9L350.8 249.7L350.8 264.2zM343.7 260.8L356.3 253.6L356.3 268.1zM349.2 264.7L361.8 257.4L361.8 271.9zM354.7 268.5L367.3 261.2L367.3 275.7zM360.2 272.3L372.7 265.1L372.7 279.6zM365.7 276.2L378.2 268.9L378.2 283.4zM371.2 280.1L383.7 272.8L383.7 287.3zM376.6 284L389.2 276.8L389.2 291.3zM382.1 288L394.7 280.7L394.7 295.2zM387.6 292L400.2 284.8L400.2 299.3zM393.1 296.3L405.7 289L405.7 303.5zM398.6 300.6L411.2 293.3L411.2 307.8zM404.1 305L416.6 297.7L416.6 312.2zM409.6 309.5L422.1 302.2L422.1 316.7zM415.1 314L427.6 306.8L427.6 321.3zM420.6 318.6L433.1 311.4L433.1 325.9zM426 323.1L438.6 315.9L438.6 330.4zM431.5 327.3L444.1 320.1L444.1 334.6zM437 331.4L449.6 324.2L449.6 338.7zM442.5 335.5L455.1 328.3L455.1 342.8zM448 339.6L460.6 332.3L460.6 346.8zM453.5 343.6L466 336.3L466 350.8zM459 347.4L471.5 340.1L471.5 354.6zM464.5 351.1L477 343.9L477 358.4zM469.9 354.9L482.5 347.7L482.5 362.2zM475.4 359L488 351.7L488 366.2zM480.9 363.2L493.5 355.9L493.5 370.4zM486.4 367.4L499 360.1L499 374.6zM491.9 371.5L504.5 364.3L504.5 378.8zM497.4 375.6L509.9 368.4L509.9 382.9zM502.9 379.6L515.4 372.4L515.4 386.9zM508.4 383.6L520.9 376.3L520.9 390.8zM513.9 387.5L526.4 380.2L526.4 394.7zM519.3 391.4L531.9 384.1L531.9 398.6zM524.8 395.3L537.4 388.1L537.4 402.6zM530.3 399.2L542.9 392L542.9 406.5zM535.8 403.1L548.4 395.9L548.4 410.4zM541.3 406.9L553.9 399.7L553.9 414.2zM546.8 410.6L559.3 403.3L559.3 417.8zM552.3 414.2L564.8 406.9L564.8 421.4zM557.8 417.8L570.3 410.5L570.3 425zM563.2 421.4L575.8 414.2L575.8 428.7zM568.7 425.1L581.3 417.8L581.3 432.3zM574.2 428.7L586.8 421.5L586.8 436zM579.7 432.4L592.3 425.1L592.3 439.6zM585.2 436L597.8 428.8L597.8 443.3zM590.7 439.7L603.2 432.4L603.2 446.9zM596.2 443.3L608.7 436.1L608.7 450.6zM601.7 447.1L614.2 439.8L614.2 454.3zM607.1 450.8L619.7 443.6L619.7 458.1zM612.6 454.7L625.2 447.4L625.2 461.9zM618.1 458.5L630.7 451.3L630.7 465.8zM623.6 462.4L636.2 455.2L636.2 469.7zM629.1 466.2L641.7 459L641.7 473.5zM634.6 469.9L647.1 462.6L647.1 477.1zM640.1 473.4L652.6 466.2L652.6 480.7zM645.6 476.7L658.1 469.5L658.1 484zM651 479.8L663.6 472.5L663.6 487zM656.5 482.7L669.1 475.4L669.1 489.9zM662 485.5L674.6 478.2L674.6 492.7zM667.5 488.2L680.1 481L680.1 495.5zM673 490.9L685.6 483.7L685.6 498.2zM678.5 493.6L691 486.4L691 500.9zM684 496.4L696.5 489.2L696.5 503.7zM689.5 499.2L702 492L702 506.5zM695 502.1L707.5 494.9L707.5 509.4zM700.4 505.1L713 497.8L713 512.3zM705.9 508L718.5 500.8L718.5 515.3z" fill="#000" stroke="#000" stroke-width="1"/>
<g fill="#fff" stroke="#000" stroke-width="1.25">
<path d="M191.2 127L197.9 131.8L195.3 139.7L187.1 139.7L184.5 131.8z"/>
<path d="M198.4 127.5L205 132.3L202.5 140.2L194.3 140.2L191.7 132.3z"/>
<path d="M205.5 130L212.2 134.8L209.6 142.6L201.4 142.6L198.9 134.8z"/>
<path d="M212.7 133L219.4 137.8L216.8 145.6L208.6 145.6L206 137.8z"/>
<path d="M219.9 136.4L226.5 141.3L224 149.1L215.7 149.1L213.2 141.3z"/>
<path d="M227 140.3L233.7 145.2L231.1 153L222.9 153L220.4 145.2z"/>
<path d="M234.2 144.8L240.9 149.6L238.3 157.4L230.1 157.4L227.5 149.6z"/>
<path d="M241.4 149.6L248 154.4L245.5 162.2L237.2 162.2L234.7 154.4z"/>
<path d="M248.5 154.3L255.2 159.1L252.6 166.9L244.4 166.9L241.9 159.1z"/>
<path d="M255.7 158.7L262.4 163.5L259.8 171.3L251.6 171.3L249 163.5z"/>
<path d="M262.9 162.9L269.5 167.8L267 175.6L258.7 175.6L256.2 167.8z"/>
<path d="M270 167.1L276.7 171.9L274.1 179.8L265.9 179.8L263.4 171.9z"/>
<path d="M277.2 171.2L283.8 176L281.3 183.9L273.1 183.9L270.5 176z"/>
<path d="M284.4 175.3L291 180.1L288.5 187.9L280.2 187.9L277.7 180.1z"/>
<path d="M291.5 179.3L298.2 184.2L295.6 192L287.4 192L284.9 184.2z"/>
<path d="M298.7 183.4L305.3 188.3L302.8 196.1L294.6 196.1L292 188.3z"/>
<path d="M305.9 187.6L312.5 192.5L310 200.3L301.7 200.3L299.2 192.5z"/>
<path d="M313 191.9L319.7 196.8L317.1 204.6L308.9 204.6L306.4 196.8z"/>
<path d="M320.2 196.4L326.8 201.3L324.3 209.1L316.1 209.1L313.5 201.3z"/>
<path d="M327.4 201L334 205.9L331.5 213.7L323.2 213.7L320.7 205.9z"/>
<path d="M334.5 205.7L341.2 210.5L338.6 218.4L330.4 218.4L327.9 210.5z"/>
<path d="M341.7 210.4L348.3 215.3L345.8 223.1L337.6 223.1L335 215.3z"/>
<path d="M348.9 215.2L355.5 220.1L353 227.9L344.7 227.9L342.2 220.1z"/>
<path d="M356 220.1L362.7 225L360.1 232.8L351.9 232.8L349.4 225z"/>
<path d="M363.2 225.1L369.8 229.9L367.3 237.7L359.1 237.7L356.5 229.9z"/>
<path d="M370.3 230L377 234.9L374.5 242.7L366.2 242.7L363.7 234.9z"/>
<path d="M377.5 235.1L384.2 239.9L381.6 247.8L373.4 247.8L370.9 239.9z"/>
<path d="M384.7 240.2L391.3 245L388.8 252.9L380.6 252.9L378 245z"/>
<path d="M391.8 245.3L398.5 250.2L396 258L387.7 258L385.2 250.2z"/>
<path d="M399 250.5L405.7 255.4L403.1 263.2L394.9 263.2L392.4 255.4z"/>
<path d="M406.2 255.8L412.8 260.6L410.3 268.4L402.1 268.4L399.5 260.6z"/>
<path d="M413.3 261L420 265.9L417.5 273.7L409.2 273.7L406.7 265.9z"/>
<path d="M420.5 266.3L427.2 271.2L424.6 279L416.4 279L413.9 271.2z"/>
<path d="M427.7 271.7L434.3 276.5L431.8 284.4L423.6 284.4L421 276.5z"/>
<path d="M434.8 277.1L441.5 281.9L439 289.7L430.7 289.7L428.2 281.9z"/>
<path d="M442 282.5L448.7 287.3L446.1 295.1L437.9 295.1L435.4 287.3z"/>
<path d="M449.2 287.9L455.8 292.7L453.3 300.5L445.1 300.5L442.5 292.7z"/>
<path d="M456.3 293.3L463 298.2L460.5 306L452.2 306L449.7 298.2z"/>
<path d="M463.5 298.9L470.2 303.7L467.6 311.5L459.4 311.5L456.8 303.7z"/>
<path d="M470.7 304.5L477.3 309.3L474.8 317.1L466.6 317.1L464 309.3z"/>
<path d="M477.8 310.1L484.5 315L482 322.8L473.7 322.8L471.2 315z"/>
<path d="M485 315.9L491.7 320.7L489.1 328.5L480.9 328.5L478.3 320.7z"/>
<path d="M492.2 321.7L498.8 326.5L496.3 334.3L488.1 334.3L485.5 326.5z"/>
<path d="M499.3 327.5L506 332.3L503.5 340.2L495.2 340.2L492.7 332.3z"/>
<path d="M506.5 333.4L513.2 338.2L510.6 346L502.4 346L499.8 338.2z"/>
<path d="M513.7 339.3L520.3 344.2L517.8 352L509.6 352L507 344.2z"/>
<path d="M520.8 345.3L527.5 350.1L524.9 358L516.7 358L514.2 350.1z"/>
<path d="M528 351.3L534.7 356.1L532.1 364L523.9 364L521.3 356.1z"/>
</g>
<g fill="#fff" stroke="#000" stroke-width="1.25">
<path d="M191.2 126.4L196.9 129.7L196.9 136.3L191.2 139.6L185.5 136.3L185.5 129.7z"/>
<path d="M198.4 126.9L204.1 130.2L204.1 136.8L198.4 140.1L192.7 136.8L192.7 130.2z"/>
<path d="M205.5 129.4L211.2 132.7L211.2 139.3L205.5 142.6L199.8 139.3L199.8 132.7z"/>
<path d="M212.7 132.4L218.4 135.7L218.4 142.3L212.7 145.6L207 142.3L207 135.7z"/>
<path d="M219.9 135.8L225.6 139.1L225.6 145.7L219.9 149L214.1 145.7L214.1 139.1z"/>
<path d="M227 139.7L232.7 143L232.7 149.6L227 152.9L221.3 149.6L221.3 143z"/>
<path d="M234.2 144.2L239.9 147.5L239.9 154.1L234.2 157.4L228.5 154.1L228.5 147.5z"/>
<path d="M241.4 149L247.1 152.3L247.1 158.9L241.4 162.2L235.6 158.9L235.6 152.3z"/>
<path d="M248.5 153.7L254.2 157L254.2 163.6L248.5 166.9L242.8 163.6L242.8 157z"/>
<path d="M255.7 158.1L261.4 161.4L261.4 168L255.7 171.3L250 168L250 161.4z"/>
<path d="M262.9 162.3L268.6 165.6L268.6 172.2L262.9 175.5L257.1 172.2L257.1 165.6z"/>
<path d="M270 166.5L275.7 169.8L275.7 176.4L270 179.7L264.3 176.4L264.3 169.8z"/>
<path d="M277.2 170.6L282.9 173.9L282.9 180.5L277.2 183.8L271.5 180.5L271.5 173.9z"/>
<path d="M284.4 174.7L290.1 178L290.1 184.6L284.4 187.9L278.6 184.6L278.6 178z"/>
<path d="M291.5 178.7L297.2 182L297.2 188.6L291.5 191.9L285.8 188.6L285.8 182z"/>
<path d="M298.7 182.8L304.4 186.1L304.4 192.7L298.7 196L293 192.7L293 186.1z"/>
<path d="M305.9 187L311.6 190.3L311.6 196.9L305.9 200.2L300.1 196.9L300.1 190.3z"/>
<path d="M313 191.3L318.7 194.6L318.7 201.2L313 204.5L307.3 201.2L307.3 194.6z"/>
<path d="M320.2 195.8L325.9 199.1L325.9 205.7L320.2 209L314.5 205.7L314.5 199.1z"/>
<path d="M327.4 200.4L333.1 203.7L333.1 210.3L327.4 213.6L321.6 210.3L321.6 203.7z"/>
<path d="M334.5 205.1L340.2 208.4L340.2 215L334.5 218.3L328.8 215L328.8 208.4z"/>
<path d="M341.7 209.8L347.4 213.1L347.4 219.7L341.7 223L336 219.7L336 213.1z"/>
<path d="M348.9 214.6L354.6 217.9L354.6 224.5L348.9 227.8L343.1 224.5L343.1 217.9z"/>
<path d="M356 219.5L361.7 222.8L361.7 229.4L356 232.7L350.3 229.4L350.3 222.8z"/>
<path d="M363.2 224.5L368.9 227.8L368.9 234.4L363.2 237.7L357.5 234.4L357.5 227.8z"/>
<path d="M370.3 229.4L376.1 232.7L376.1 239.3L370.3 242.6L364.6 239.3L364.6 232.7z"/>
<path d="M377.5 234.5L383.2 237.8L383.2 244.4L377.5 247.7L371.8 244.4L371.8 237.8z"/>
<path d="M384.7 239.6L390.4 242.9L390.4 249.5L384.7 252.8L379 249.5L379 242.9z"/>
<path d="M391.8 244.7L397.6 248L397.6 254.6L391.8 257.9L386.1 254.6L386.1 248z"/>
<path d="M399 249.9L404.7 253.2L404.7 259.8L399 263.1L393.3 259.8L393.3 253.2z"/>
<path d="M406.2 255.2L411.9 258.5L411.9 265.1L406.2 268.4L400.5 265.1L400.5 258.5z"/>
<path d="M413.3 260.4L419.1 263.7L419.1 270.3L413.3 273.6L407.6 270.3L407.6 263.7z"/>
<path d="M420.5 265.7L426.2 269L426.2 275.6L420.5 278.9L414.8 275.6L414.8 269z"/>
<path d="M427.7 271.1L433.4 274.4L433.4 281L427.7 284.3L422 281L422 274.4z"/>
<path d="M434.8 276.5L440.6 279.8L440.6 286.4L434.8 289.7L429.1 286.4L429.1 279.8z"/>
<path d="M442 281.9L447.7 285.2L447.7 291.8L442 295.1L436.3 291.8L436.3 285.2z"/>
<path d="M449.2 287.3L454.9 290.6L454.9 297.2L449.2 300.5L443.5 297.2L443.5 290.6z"/>
<path d="M456.3 292.7L462.1 296L462.1 302.6L456.3 305.9L450.6 302.6L450.6 296z"/>
<path d="M463.5 298.3L469.2 301.6L469.2 308.2L463.5 311.5L457.8 308.2L457.8 301.6z"/>
<path d="M470.7 303.9L476.4 307.2L476.4 313.8L470.7 317.1L465 313.8L465 307.2z"/>
<path d="M477.8 309.5L483.6 312.8L483.6 319.4L477.8 322.7L472.1 319.4L472.1 312.8z"/>
<path d="M485 315.3L490.7 318.6L490.7 325.2L485 328.5L479.3 325.2L479.3 318.6z"/>
<path d="M492.2 321.1L497.9 324.4L497.9 331L492.2 334.3L486.5 331L486.5 324.4z"/>
<path d="M499.3 326.9L505.1 330.2L505.1 336.8L499.3 340.1L493.6 336.8L493.6 330.2z"/>
<path d="M506.5 332.8L512.2 336.1L512.2 342.7L506.5 346L500.8 342.7L500.8 336.1z"/>
<path d="M513.7 338.7L519.4 342L519.4 348.6L513.7 351.9L508 348.6L508 342z"/>
<path d="M520.8 344.7L526.5 348L526.5 354.6L520.8 357.9L515.1 354.6L515.1 348z"/>
<path d="M528 350.7L533.7 354L533.7 360.6L528 363.9L522.3 360.6L522.3 354z"/>
</g>
<g fill="#fff" stroke="#000" stroke-width="1.25">
<path d="M182.8 123.6L195.4 116.4L195.4 130.9z"/>
<path d="M190 123.4L202.6 116.2L202.6 130.7z"/>
<path d="M197.2 124.5L209.7 117.2L209.7 131.7z"/>
<path d="M204.3 126.8L216.9 119.6L216.9 134.1z"/>
<path d="M211.5 129.9L224.1 122.7L224.1 137.2z"/>
<path d="M218.7 133.2L231.2 125.9L231.2 140.4z"/>
<path d="M225.8 137.3L238.4 130L238.4 144.5z"/>
<path d="M233 141.8L245.6 134.6L245.6 149.1z"/>
<path d="M240.2 146.5L252.7 139.2L252.7 153.7z"/>
<path d="M247.3 151.5L259.9 144.2L259.9 158.7z"/>
<path d="M254.5 156.3L267 149.1L267 163.6z"/>
<path d="M261.7 161L274.2 153.7L274.2 168.2z"/>
<path d="M268.8 165.7L281.4 158.5L281.4 173z"/>
<path d="M276 170.6L288.5 163.3L288.5 177.8z"/>
<path d="M283.2 175.4L295.7 168.2L295.7 182.7z"/>
<path d="M290.3 180.3L302.9 173L302.9 187.5z"/>
<path d="M297.5 185.2L310 178L310 192.5z"/>
<path d="M304.7 190.2L317.2 182.9L317.2 197.4z"/>
<path d="M311.8 195.1L324.4 187.9L324.4 202.4z"/>
<path d="M319 200.1L331.5 192.9L331.5 207.4z"/>
<path d="M326.1 205.1L338.7 197.9L338.7 212.4z"/>
<path d="M333.3 210.2L345.9 202.9L345.9 217.4z"/>
<path d="M340.5 215.2L353 208L353 222.5z"/>
<path d="M347.6 220.3L360.2 213.1L360.2 227.6z"/>
<path d="M354.8 225.4L367.4 218.2L367.4 232.7z"/>
<path d="M362 230.6L374.5 223.3L374.5 237.8z"/>
<path d="M369.1 235.7L381.7 228.5L381.7 243z"/>
<path d="M376.3 240.9L388.9 233.7L388.9 248.2z"/>
<path d="M383.5 246.1L396 238.9L396 253.4z"/>
<path d="M390.6 251.4L403.2 244.1L403.2 258.6z"/>
<path d="M397.8 256.6L410.4 249.4L410.4 263.9z"/>
<path d="M405 261.9L417.5 254.6L417.5 269.1z"/>
<path d="M412.1 267.1L424.7 259.8L424.7 274.3z"/>
<path d="M419.3 272.3L431.9 265.1L431.9 279.6z"/>
<path d="M426.5 277.5L439 270.3L439 284.8z"/>
<path d="M433.6 282.8L446.2 275.6L446.2 290.1z"/>
<path d="M440.8 288.1L453.4 280.9L453.4 295.4z"/>
<path d="M448 293.5L460.5 286.2L460.5 300.7z"/>
<path d="M455.1 298.9L467.7 291.6L467.7 306.1z"/>
<path d="M462.3 304.4L474.9 297.1L474.9 311.6z"/>
<path d="M469.5 309.9L482 302.7L482 317.2z"/>
<path d="M476.6 315.6L489.2 308.3L489.2 322.8z"/>
<path d="M483.8 321.3L496.4 314L496.4 328.5z"/>
<path d="M491 327.2L503.5 319.9L503.5 334.4z"/>
<path d="M498.1 333.2L510.7 326L510.7 340.5z"/>
<path d="M505.3 339.4L517.9 332.1L517.9 346.6z"/>
<path d="M512.5 345.6L525 338.4L525 352.9z"/>
<path d="M519.6 352L532.2 344.7L532.2 359.2z"/>
</g>
<g fill="#fff" stroke="#000" stroke-width="1.25">
<path d="M185.5 145.3a5.5 5.5 0 1 0 11.0 0a5.5 5.5 0 1 0 -11.0 0z"/>
<path d="M225 154.8a5.5 5.5 0 1 0 11.0 0a5.5 5.5 0 1 0 -11.0 0z"/>
<path d="M239.7 163a5.5 5.5 0 1 0 11.0 0a5.5 5.5 0 1 0 -11.0 0z"/>
<path d="M254.9 171.7a5.5 5.5 0 1 0 11.0 0a5.5 5.5 0 1 0 -11.0 0z"/>
<path d="M270.2 180.9a5.5 5.5 0 1 0 11.0 0a5.5 5.5 0 1 0 -11.0 0z"/>
<path d="M285 189.9a5.5 5.5 0 1 0 11.0 0a5.5 5.5 0 1 0 -11.0 0z"/>
<path d="M300.5 199.7a5.5 5.5 0 1 0 11.0 0a5.5 5.5 0 1 0 -11.0 0z"/>
<path d="M315.3 209.8a5.5 5.5 0 1 0 11.0 0a5.5 5.5 0 1 0 -11.0 0z"/>
<path d="M330.5 220.5a5.5 5.5 0 1 0 11.0 0a5.5 5.5 0 1 0 -11.0 0z"/>
<path d="M345.3 230.8a5.5 5.5 0 1 0 11.0 0a5.5 5.5 0 1 0 -11.0 0z"/>
<path d="M360.4 241.1a5.5 5.5 0 1 0 11.0 0a5.5 5.5 0 1 0 -11.0 0z"/>
<path d="M375.6 251.5a5.5 5.5 0 1 0 11.0 0a5.5 5.5 0 1 0 -11.0 0z"/>
<path d="M390.9 262a5.5 5.5 0 1 0 11.0 0a5.5 5.5 0 1 0 -11.0 0z"/>
<path d="M405.9 272.7a5.5 5.5 0 1 0 11.0 0a5.5 5.5 0 1 0 -11.0 0z"/>
<path d="M421.1 283.5a5.5 5.5 0 1 0 11.0 0a5.5 5.5 0 1 0 -11.0 0z"/>
<path d="M436.1 294.4a5.5 5.5 0 1 0 11.0 0a5.5 5.5 0 1 0 -11.0 0z"/>
<path d="M451.1 305.3a5.5 5.5 0 1 0 11.0 0a5.5 5.5 0 1 0 -11.0 0z"/>
<path d="M466.2 316.7a5.5 5.5 0 1 0 11.0 0a5.5 5.5 0 1 0 -11.0 0z"/>
<path d="M481.3 328.4a5.5 5.5 0 1 0 11.0 0a5.5 5.5 0 1 0 -11.0 0z"/>
<path d="M496.3 340.5a5.5 5.5 0 1 0 11.0 0a5.5 5.5 0 1 0 -11.0 0z"/>
<path d="M511.5 352.4a5.5 5.5 0 1 0 11.0 0a5.5 5.5 0 1 0 -11.0 0z"/>
<path d="M522.5 357.5a5.5 5.5 0 1 0 11.0 0a5.5 5.5 0 1 0 -11.0 0z"/>
</g>
<g fill="#fff" stroke="#000" stroke-width="1.25">
<path d="M185.7 33.4h11v11h-11z"/>
<path d="M192.9 36.9h11v11h-11z"/>
<path d="M200 40.4h11v11h-11z"/>
<path d="M207.2 44h11v11h-11z"/>
<path d="M214.4 47.8h11v11h-11z"/>
<path d="M221.5 51.5h11v11h-11z"/>
<path d="M228.7 55.5h11v11h-11z"/>
<path d="M235.9 59.7h11v11h-11z"/>
<path d="M243 64.1h11v11h-11z"/>
<path d="M250.2 68.8h11v11h-11z"/>
<path d="M257.4 73.4h11v11h-11z"/>
<path d="M264.5 77.9h11v11h-11z"/>
<path d="M271.7 82.5h11v11h-11z"/>
<path d="M278.9 86.8h11v11h-11z"/>
<path d="M286 90.7h11v11h-11z"/>
<path d="M293.2 94.3h11v11h-11z"/>
<path d="M300.4 98h11v11h-11z"/>
<path d="M307.5 101.9h11v11h-11z"/>
<path d="M314.7 106h11v11h-11z"/>
<path d="M321.9 110.2h11v11h-11z"/>
<path d="M329 114.4h11v11h-11z"/>
<path d="M336.2 118.7h11v11h-11z"/>
<path d="M343.4 123h11v11h-11z"/>
<path d="M350.5 127.2h11v11h-11z"/>
<path d="M357.7 131.4h11v11h-11z"/>
<path d="M364.8 135.7h11v11h-11z"/>
<path d="M372 140.1h11v11h-11z"/>
<path d="M379.2 144.7h11v11h-11z"/>
<path d="M386.3 149.3h11v11h-11z"/>
<path d="M393.5 153.8h11v11h-11z"/>
<path d="M400.7 158.3h11v11h-11z"/>
<path d="M407.8 162.6h11v11h-11z"/>
<path d="M415 167h11v11h-11z"/>
<path d="M422.2 171.6h11v11h-11z"/>
<path d="M429.3 176.5h11v11h-11z"/>
<path d="M436.5 181.5h11v11h-11z"/>
<path d="M443.7 186.4h11v11h-11z"/>
<path d="M450.8 191.5h11v11h-11z"/>
<path d="M458 196.6h11v11h-11z"/>
<path d="M465.2 201.8h11v11h-11z"/>
<path d="M472.3 207h11v11h-11z"/>
<path d="M479.5 212.3h11v11h-11z"/>
<path d="M486.7 217.6h11v11h-11z"/>
<path d="M493.8 223h11v11h-11z"/>
<path d="M501 228.4h11v11h-11z"/>
<path d="M508.2 234h11v11h-11z"/>
<path d="M515.3 239.6h11v11h-11z"/>
<path d="M522.5 245.3h11v11h-11z"/>
</g>
<g fill="#fff" stroke="#000" stroke-width="1.25">
<path d="M191.2 28.1L199 35.9L191.2 43.7L183.4 35.9z"/>
<path d="M198.4 30.8L206.2 38.6L198.4 46.4L190.6 38.6z"/>
<path d="M205.5 33.9L213.3 41.7L205.5 49.5L197.7 41.7z"/>
<path d="M212.7 37.3L220.5 45.1L212.7 52.9L204.9 45.1z"/>
<path d="M219.9 41L227.7 48.8L219.9 56.6L212.1 48.8z"/>
<path d="M227 44.8L234.8 52.6L227 60.4L219.2 52.6z"/>
<path d="M234.2 48.8L242 56.6L234.2 64.4L226.4 56.6z"/>
<path d="M241.4 53.1L249.2 60.9L241.4 68.7L233.6 60.9z"/>
<path d="M248.5 57.6L256.3 65.4L248.5 73.2L240.7 65.4z"/>
<path d="M255.7 62.4L263.5 70.2L255.7 78L247.9 70.2z"/>
<path d="M262.9 67L270.7 74.8L262.9 82.6L255.1 74.8z"/>
<path d="M270 71.6L277.8 79.4L270 87.2L262.2 79.4z"/>
<path d="M277.2 76.3L285 84.1L277.2 91.9L269.4 84.1z"/>
<path d="M284.4 81.1L292.2 88.9L284.4 96.7L276.6 88.9z"/>
<path d="M291.5 85.8L299.3 93.6L291.5 101.4L283.7 93.6z"/>
<path d="M298.7 90.5L306.5 98.3L298.7 106.1L290.9 98.3z"/>
<path d="M305.9 95.1L313.7 102.9L305.9 110.7L298.1 102.9z"/>
<path d="M313 99.8L320.8 107.6L313 115.4L305.2 107.6z"/>
<path d="M320.2 104.8L328 112.6L320.2 120.4L312.4 112.6z"/>
<path d="M327.4 109.8L335.2 117.6L327.4 125.4L319.6 117.6z"/>
<path d="M334.5 114.9L342.3 122.7L334.5 130.5L326.7 122.7z"/>
<path d="M341.7 120.2L349.5 128L341.7 135.8L333.9 128z"/>
<path d="M348.9 125.4L356.7 133.2L348.9 141L341.1 133.2z"/>
<path d="M356 130.7L363.8 138.5L356 146.3L348.2 138.5z"/>
<path d="M363.2 136.1L371 143.9L363.2 151.7L355.4 143.9z"/>
<path d="M370.3 141.6L378.1 149.4L370.3 157.2L362.5 149.4z"/>
<path d="M377.5 147.3L385.3 155.1L377.5 162.9L369.7 155.1z"/>
<path d="M384.7 153.1L392.5 160.9L384.7 168.7L376.9 160.9z"/>
<path d="M391.8 158.9L399.6 166.7L391.8 174.5L384 166.7z"/>
<path d="M399 164.7L406.8 172.5L399 180.3L391.2 172.5z"/>
<path d="M406.2 170.3L414 178.1L406.2 185.9L398.4 178.1z"/>
<path d="M413.3 175.6L421.1 183.4L413.3 191.2L405.5 183.4z"/>
<path d="M420.5 181L428.3 188.8L420.5 196.6L412.7 188.8z"/>
<path d="M427.7 186.4L435.5 194.2L427.7 202L419.9 194.2z"/>
<path d="M434.8 192L442.6 199.8L434.8 207.6L427 199.8z"/>
<path d="M442 197.6L449.8 205.4L442 213.2L434.2 205.4z"/>
<path d="M449.2 203.3L457 211.1L449.2 218.9L441.4 211.1z"/>
<path d="M456.3 209L464.1 216.8L456.3 224.6L448.5 216.8z"/>
<path d="M463.5 214.8L471.3 222.6L463.5 230.4L455.7 222.6z"/>
<path d="M470.7 220.6L478.5 228.4L470.7 236.2L462.9 228.4z"/>
<path d="M477.8 226.4L485.6 234.2L477.8 242L470 234.2z"/>
<path d="M485 232.2L492.8 240L485 247.8L477.2 240z"/>
<path d="M492.2 238L500 245.8L492.2 253.6L484.4 245.8z"/>
<path d="M499.3 243.9L507.1 251.7L499.3 259.5L491.5 251.7z"/>
<path d="M506.5 249.7L514.3 257.5L506.5 265.3L498.7 257.5z"/>
<path d="M513.7 255.6L521.5 263.4L513.7 271.2L505.9 263.4z"/>
<path d="M520.8 261.5L528.6 269.3L520.8 277.1L513 269.3z"/>
<path d="M528 267.4L535.8 275.2L528 283L520.2 275.2z"/>
</g>
<g fill="#fff" stroke="#000" stroke-width="1.25">
<path d="M191.2 40.5L198.4 27.9L183.9 27.9z"/>
<path d="M198.4 43.2L205.6 30.7L191.1 30.7z"/>
<path d="M205.5 46.4L212.8 33.9L198.3 33.9z"/>
<path d="M212.7 50L219.9 37.4L205.4 37.4z"/>
<path d="M219.9 53.8L227.1 41.2L212.6 41.2z"/>
<path d="M227 57.6L234.3 45.1L219.8 45.1z"/>
<path d="M234.2 61.7L241.4 49.1L226.9 49.1z"/>
<path d="M241.4 66.1L248.6 53.5L234.1 53.5z"/>
<path d="M248.5 70.7L255.8 58.1L241.3 58.1z"/>
<path d="M255.7 75.5L262.9 62.9L248.4 62.9z"/>
<path d="M262.9 80.2L270.1 67.7L255.6 67.7z"/>
<path d="M270 84.9L277.3 72.3L262.8 72.3z"/>
<path d="M277.2 89.7L284.4 77.1L269.9 77.1z"/>
<path d="M284.4 94.5L291.6 82L277.1 82z"/>
<path d="M291.5 99.2L298.8 86.7L284.3 86.7z"/>
<path d="M298.7 104L305.9 91.4L291.4 91.4z"/>
<path d="M305.9 108.7L313.1 96.1L298.6 96.1z"/>
<path d="M313 113.4L320.3 100.9L305.8 100.9z"/>
<path d="M320.2 118.4L327.4 105.8L312.9 105.8z"/>
<path d="M327.4 123.5L334.6 110.9L320.1 110.9z"/>
<path d="M334.5 128.6L341.8 116L327.3 116z"/>
<path d="M341.7 133.8L348.9 121.3L334.4 121.3z"/>
<path d="M348.9 139.1L356.1 126.5L341.6 126.5z"/>
<path d="M356 144.4L363.3 131.8L348.8 131.8z"/>
<path d="M363.2 149.7L370.4 137.2L355.9 137.2z"/>
<path d="M370.3 155.2L377.6 142.7L363.1 142.7z"/>
<path d="M377.5 160.9L384.8 148.3L370.3 148.3z"/>
<path d="M384.7 166.7L391.9 154.1L377.4 154.1z"/>
<path d="M391.8 172.5L399.1 159.9L384.6 159.9z"/>
<path d="M399 178.2L406.3 165.6L391.8 165.6z"/>
<path d="M406.2 183.7L413.4 171.2L398.9 171.2z"/>
<path d="M413.3 189.1L420.6 176.5L406.1 176.5z"/>
<path d="M420.5 194.3L427.8 181.8L413.3 181.8z"/>
<path d="M427.7 199.7L434.9 187.2L420.4 187.2z"/>
<path d="M434.8 205.2L442.1 192.7L427.6 192.7z"/>
<path d="M442 210.7L449.3 198.1L434.8 198.1z"/>
<path d="M449.2 216.1L456.4 203.6L441.9 203.6z"/>
<path d="M456.3 221.6L463.6 209.1L449.1 209.1z"/>
<path d="M463.5 227.2L470.8 214.7L456.3 214.7z"/>
<path d="M470.7 232.8L477.9 220.3L463.4 220.3z"/>
<path d="M477.8 238.4L485.1 225.9L470.6 225.9z"/>
<path d="M485 244.1L492.3 231.5L477.8 231.5z"/>
<path d="M492.2 249.7L499.4 237.1L484.9 237.1z"/>
<path d="M499.3 255.3L506.6 242.7L492.1 242.7z"/>
<path d="M506.5 260.9L513.8 248.4L499.3 248.4z"/>
<path d="M513.7 266.6L520.9 254L506.4 254z"/>
<path d="M520.8 272.3L528.1 259.7L513.6 259.7z"/>
<path d="M528 277.9L535.2 265.4L520.8 265.4z"/>
</g>
<g fill="#fff" stroke="#000" stroke-width="1.25">
<path d="M191.2 22L198.4 34.5L183.9 34.5z"/>
<path d="M198.4 24.6L205.6 37.1L191.1 37.1z"/>
<path d="M205.5 27.6L212.8 40.2L198.3 40.2z"/>
<path d="M212.7 31.1L219.9 43.6L205.4 43.6z"/>
<path d="M219.9 34.7L227.1 47.3L212.6 47.3z"/>
<path d="M227 38.4L234.3 51L219.8 51z"/>
<path d="M234.2 42.4L241.4 55L226.9 55z"/>
<path d="M241.4 46.6L248.6 59.2L234.1 59.2z"/>
<path d="M248.5 51.1L255.8 63.7L241.3 63.7z"/>
<path d="M255.7 55.8L262.9 68.4L248.4 68.4z"/>
<path d="M262.9 60.5L270.1 73L255.6 73z"/>
<path d="M270 65L277.3 77.6L262.8 77.6z"/>
<path d="M277.2 69.7L284.4 82.3L269.9 82.3z"/>
<path d="M284.4 74.4L291.6 87L277.1 87z"/>
<path d="M291.5 79.1L298.8 91.6L284.3 91.6z"/>
<path d="M298.7 83.7L305.9 96.3L291.4 96.3z"/>
<path d="M305.9 88.4L313.1 100.9L298.6 100.9z"/>
<path d="M313 93L320.3 105.6L305.8 105.6z"/>
<path d="M320.2 97.9L327.4 110.5L312.9 110.5z"/>
<path d="M327.4 102.9L334.6 115.5L320.1 115.5z"/>
<path d="M334.5 108L341.8 120.6L327.3 120.6z"/>
<path d="M341.7 113.2L348.9 125.8L334.4 125.8z"/>
<path d="M348.9 118.4L356.1 130.9L341.6 130.9z"/>
<path d="M356 123.7L363.3 136.2L348.8 136.2z"/>
<path d="M363.2 129L370.4 141.6L355.9 141.6z"/>
<path d="M370.3 134.4L377.6 147L363.1 147z"/>
<path d="M377.5 140.1L384.8 152.7L370.3 152.7z"/>
<path d="M384.7 145.9L391.9 158.5L377.4 158.5z"/>
<path d="M391.8 151.7L399.1 164.2L384.6 164.2z"/>
<path d="M399 157.4L406.3 170L391.8 170z"/>
<path d="M406.2 163L413.4 175.5L398.9 175.5z"/>
<path d="M413.3 168.3L420.6 180.8L406.1 180.8z"/>
<path d="M420.5 173.6L427.8 186.1L413.3 186.1z"/>
<path d="M427.7 179L434.9 191.6L420.4 191.6z"/>
<path d="M434.8 184.5L442.1 197.1L427.6 197.1z"/>
<path d="M442 190L449.3 202.6L434.8 202.6z"/>
<path d="M449.2 195.5L456.4 208.1L441.9 208.1z"/>
<path d="M456.3 201.1L463.6 213.6L449.1 213.6z"/>
<path d="M463.5 206.7L470.8 219.3L456.3 219.3z"/>
<path d="M470.7 212.4L477.9 224.9L463.4 224.9z"/>
<path d="M477.8 218L485.1 230.6L470.6 230.6z"/>
<path d="M485 223.7L492.3 236.3L477.8 236.3z"/>
<path d="M492.2 229.4L499.4 242L484.9 242z"/>
<path d="M499.3 235.1L506.6 247.6L492.1 247.6z"/>
<path d="M506.5 240.8L513.8 253.4L499.3 253.4z"/>
<path d="M513.7 246.5L520.9 259.1L506.4 259.1z"/>
<path d="M520.8 252.2L528.1 264.8L513.6 264.8z"/>
<path d="M528 258L535.2 270.5L520.8 270.5z"/>
</g>
<path d="M116.0 0.8H779.0V547.4H116.0Z" fill="none" stroke="#000" stroke-width="2.4"/>
<path d="M129.1 547.4v-5.5M139.8 547.4v-5.5M148.9 547.4v-5.5M156.8 547.4v-5.5M163.8 547.4v-5.5M170 547.4v-10.5M210.9 547.4v-5.5M234.9 547.4v-5.5M251.9 547.4v-5.5M265 547.4v-5.5M275.8 547.4v-5.5M284.9 547.4v-5.5M292.8 547.4v-5.5M299.7 547.4v-5.5M305.9 547.4v-10.5M346.9 547.4v-5.5M370.8 547.4v-5.5M387.8 547.4v-5.5M401 547.4v-5.5M411.7 547.4v-5.5M420.8 547.4v-5.5M428.7 547.4v-5.5M435.7 547.4v-5.5M441.9 547.4v-10.5M482.8 547.4v-5.5M506.8 547.4v-5.5M523.8 547.4v-5.5M536.9 547.4v-5.5M547.7 547.4v-5.5M556.8 547.4v-5.5M564.7 547.4v-5.5M571.6 547.4v-5.5M577.8 547.4v-10.5M618.8 547.4v-5.5M642.7 547.4v-5.5M659.7 547.4v-5.5M672.9 547.4v-5.5M683.6 547.4v-5.5M692.7 547.4v-5.5M700.6 547.4v-5.5M707.6 547.4v-5.5M713.8 547.4v-10.5M754.7 547.4v-5.5M116.0 511.7h5.5M116.0 490.7h5.5M116.0 475.9h5.5M116.0 464.4h5.5M116.0 455h5.5M116.0 447h5.5M116.0 440.2h5.5M116.0 434.1h5.5M116.0 428.6h10.5M116.0 392.9h5.5M116.0 372h5.5M116.0 357.2h5.5M116.0 345.6h5.5M116.0 336.2h5.5M116.0 328.3h5.5M116.0 321.4h5.5M116.0 315.3h5.5M116.0 309.9h10.5M116.0 274.2h5.5M116.0 253.2h5.5M116.0 238.4h5.5M116.0 226.9h5.5M116.0 217.5h5.5M116.0 209.5h5.5M116.0 202.7h5.5M116.0 196.6h5.5M116.0 191.2h10.5M116.0 155.4h5.5M116.0 134.5h5.5M116.0 119.7h5.5M116.0 108.1h5.5M116.0 98.7h5.5M116.0 90.8h5.5M116.0 83.9h5.5M116.0 77.8h5.5M116.0 72.4h10.5M116.0 36.7h5.5M116.0 15.7h5.5" fill="none" stroke="#000" stroke-width="2"/>
<g font-family="Liberation Sans, Arial, sans-serif" font-size="21" fill="#000" stroke="#000" stroke-width="0.35">
<text x="170" y="579.3" text-anchor="middle">10<tspan dy="-10" font-size="11.5">-1</tspan></text>
<text x="305.9" y="579.3" text-anchor="middle">10<tspan dy="-10" font-size="11.5">0</tspan></text>
<text x="441.9" y="579.3" text-anchor="middle">10<tspan dy="-10" font-size="11.5">1</tspan></text>
<text x="577.8" y="579.3" text-anchor="middle">10<tspan dy="-10" font-size="11.5">2</tspan></text>
<text x="713.8" y="579.3" text-anchor="middle">10<tspan dy="-10" font-size="11.5">3</tspan></text>
<text x="104" y="555.4" text-anchor="end">10<tspan dy="-10" font-size="11.5">-2</tspan></text>
<text x="104" y="436.6" text-anchor="end">10<tspan dy="-10" font-size="11.5">-1</tspan></text>
<text x="104" y="317.9" text-anchor="end">10<tspan dy="-10" font-size="11.5">0</tspan></text>
<text x="104" y="199.2" text-anchor="end">10<tspan dy="-10" font-size="11.5">1</tspan></text>
<text x="104" y="80.4" text-anchor="end">10<tspan dy="-10" font-size="11.5">2</tspan></text>
</g>
<g font-family="Liberation Sans, Arial, sans-serif" font-size="24.4" font-weight="bold" fill="#000" text-anchor="middle">
<text x="447.3" y="619.6">Shear rate (<tspan font-family="DejaVu Serif, Liberation Serif, serif" font-weight="normal" font-size="18.5">γ</tspan>) / 1/s</text>
<text x="447.3" y="650.3">Angular frequency (<tspan font-family="DejaVu Serif, Liberation Serif, serif" font-weight="normal" font-size="18.5">ω</tspan>) / rad/s</text>
<text font-size="25.2" transform="translate(17.3 310) rotate(-90)">Viscosity (<tspan font-family="DejaVu Serif, Liberation Serif, serif" font-weight="normal" font-size="22.5" dx="1">η</tspan><tspan dx="1">) / Pa·s</tspan></text>
<text font-size="25.2" transform="translate(50.4 309.6) rotate(-90)">Complex viscosity (<tspan font-family="DejaVu Serif, Liberation Serif, serif" font-weight="normal" font-size="22.5" dx="1">η</tspan><tspan dx="1">*) / Pa·s</tspan></text>
</g>
<circle cx="482.7" cy="595.4" r="1.5" fill="#000"/>
<g font-family="Liberation Sans, Arial, sans-serif" fill="#000" stroke="#000" stroke-width="0.35">
<text x="523" y="25" font-family="DejaVu Serif, Liberation Serif, serif" font-size="15.5" stroke="none">η</text>
<text x="632.3" y="33.2" font-size="17">|<tspan font-family="DejaVu Serif, Liberation Serif, serif" font-size="15.5" stroke="none">η</tspan>*|</text>
<text x="556" y="47.4" font-size="18">X1</text>
<text x="556" y="70" font-size="18">MPe-X2</text>
<text x="556" y="92.6" font-size="18">MPe-X3</text>
<text x="556" y="115.2" font-size="18">MPe-X4</text>
<text x="556" y="137.8" font-size="18">X5</text>
<text x="556" y="160.4" font-size="18">MPe-X6</text>
<text x="556" y="183" font-size="18">MPe-X7</text>
<text x="556" y="205.6" font-size="18">MPe-X8</text>
<text x="659.5" y="53.2" font-size="16.9">X1</text>
<text x="665" y="74.2" font-size="16.9">MPe-X2</text>
<text x="665" y="95.1" font-size="16.9">MPe-X3</text>
<text x="665" y="116" font-size="16.9">MPe-X4</text>
<text x="665" y="137" font-size="16.9">X5</text>
<text x="665" y="157.9" font-size="16.9">MPe-X6</text>
<text x="665" y="178.9" font-size="16.9">MPeX7</text>
<text x="665" y="199.9" font-size="16.9">MPe-X8</text>
</g>
<path d="M525.3 35.5h11v11h-11z" fill="#000" stroke="#000" stroke-width="0.8"/>
<path d="M530.8 55.9L538 68.5L523.5 68.5z" fill="#000" stroke="#000" stroke-width="0.8"/>
<path d="M530.8 93.9L538 81.3L523.5 81.3z" fill="#000" stroke="#000" stroke-width="0.8"/>
<path d="M530.8 101L538.6 108.8L530.8 116.6L523 108.8z" fill="#000" stroke="#000" stroke-width="0.8"/>
<path d="M525.3 131.4a5.5 5.5 0 1 0 11.0 0a5.5 5.5 0 1 0 -11.0 0z" fill="#000" stroke="#000" stroke-width="0.8"/>
<path d="M522.4 154L535 146.8L535 161.2z" fill="#000" stroke="#000" stroke-width="0.8"/>
<path d="M530.8 170L536.5 173.3L536.5 179.9L530.8 183.2L525.1 179.9L525.1 173.3z" fill="#000" stroke="#000" stroke-width="0.8"/>
<path d="M530.8 192.2L537.5 197L534.9 204.9L526.7 204.9L524.1 197z" fill="#000" stroke="#000" stroke-width="0.8"/>
<path d="M635.4 42.2h11v11h-11z" fill="#fff" stroke="#000" stroke-width="1.2"/>
<path d="M640.9 61L648.1 73.5L633.6 73.5z" fill="#fff" stroke="#000" stroke-width="1.2"/>
<path d="M640.9 97.3L648.1 84.7L633.6 84.7z" fill="#fff" stroke="#000" stroke-width="1.2"/>
<path d="M640.9 102.8L648.7 110.5L640.9 118.3L633.1 110.5z" fill="#fff" stroke="#000" stroke-width="1.2"/>
<path d="M635.4 131.5a5.5 5.5 0 1 0 11.0 0a5.5 5.5 0 1 0 -11.0 0z" fill="#fff" stroke="#000" stroke-width="1.2"/>
<path d="M632.5 152.4L645.1 145.2L645.1 159.7z" fill="#fff" stroke="#000" stroke-width="1.2"/>
<path d="M640.9 166.8L646.6 170.1L646.6 176.7L640.9 180L635.2 176.7L635.2 170.1z" fill="#fff" stroke="#000" stroke-width="1.2"/>
<path d="M640.9 187.4L647.6 192.2L645 200L636.8 200L634.2 192.2z" fill="#fff" stroke="#000" stroke-width="1.2"/>
</svg>
</body></html>
